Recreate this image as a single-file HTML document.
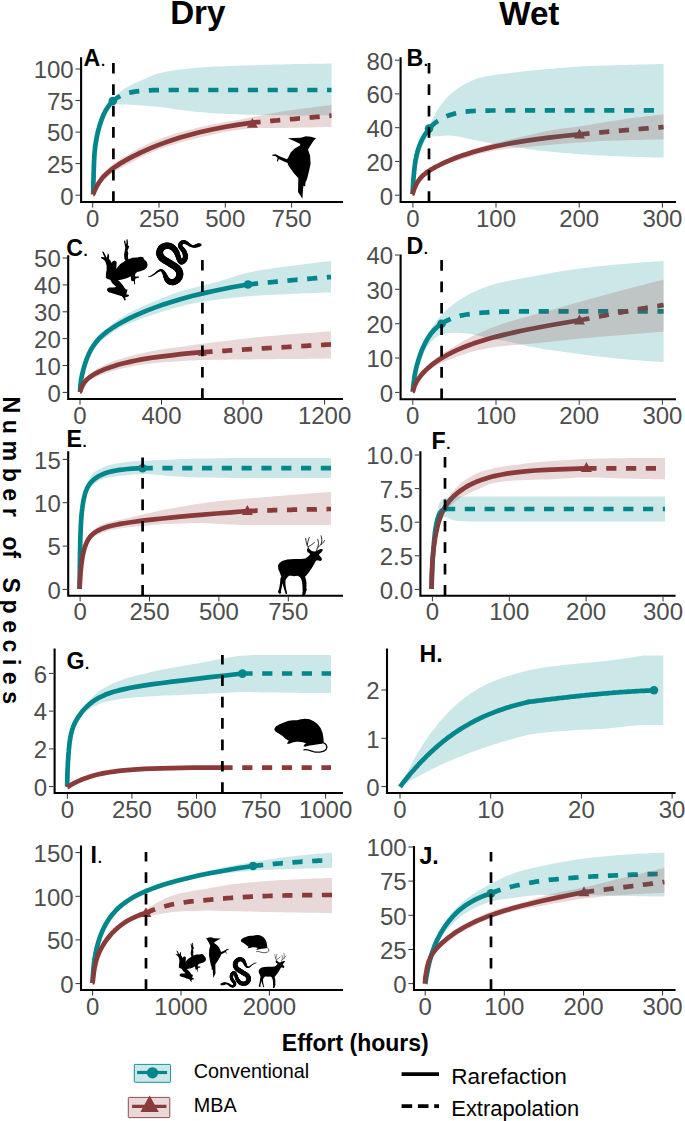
<!DOCTYPE html>
<html lang="en"><head><meta charset="utf-8"><title>Rarefaction curves</title>
<style>html,body{margin:0;padding:0;background:#fff}svg{display:block}text{font-family:'Liberation Sans', Arial, Helvetica, sans-serif}.tk{font-size:24px;fill:#4d4d4d}.pl{font-size:23.2px;font-weight:bold;fill:#000}.pd{font-size:15px;font-weight:bold}.ti{font-size:33.2px;font-weight:bold;fill:#000}.ax{font-size:23px;font-weight:bold;fill:#000}.lg1{font-size:19.8px;fill:#000}.lg2{font-size:22.2px;fill:#000}</style></head><body>
<svg width="685" height="1121" viewBox="0 0 685 1121">
<rect width="685" height="1121" fill="#fff"/>
<defs>
<path id="ic-woodpecker" d="M154 22 L282 17 L332 2 L380 6 L432 22 L410 40 L382 82 L352 132 L372 192 L377 272 L362 342 L342 422 L327 452 L324 494 L307 487 L302 532 L297 614 L277 582 L254 547 L257 412 L212 362 L162 292 L150 262 L132 256 L97 239 L67 224 L56 250 L46 247 L55 214 L32 196 L2 193 L2 184 L37 179 L67 195 L102 210 L147 226 L157 212 L182 162 L222 122 L272 92 L277 77 L222 52 Z"/>
<path id="ic-frog" d="M582 320 L572 280 L542 255 L527 225 L497 218 L452 228 L392 230 L362 245 L342 250 L337 210 L342 175 L332 140 L347 110 L352 85 L337 80 L337 35 L332 0 L317 5 L320 50 L312 60 L302 15 L287 18 L297 70 L304 110 L297 150 L290 190 L292 240 L307 265 L282 285 L242 310 L207 350 L192 370 L197 280 L167 265 L142 280 L132 295 L117 260 L102 250 L102 195 L87 175 L80 210 L72 230 L37 160 L17 150 L27 185 L47 225 L7 222 L0 235 L37 255 L57 280 L72 330 L72 380 L64 430 L62 480 L82 495 L117 505 L142 550 L192 595 L152 600 L102 600 L80 615 L77 640 L97 660 L152 675 L212 695 L262 710 L277 730 L297 765 L310 755 L302 725 L347 710 L352 695 L317 685 L327 650 L332 625 L312 625 L292 600 L272 570 L237 530 L212 510 L252 505 L312 490 L352 475 L372 460 L377 505 L382 520 L412 525 L414 565 L427 560 L424 520 L432 490 L472 480 L474 465 L437 465 L422 460 L430 430 L452 410 L492 400 L542 380 L572 355 Z"/>
<g id="ic-snake"><g transform="translate(-35 -45)"><g fill="none" stroke="#000" stroke-linecap="round"><path d="M40.0 465.0L57.1 461.3" stroke-width="8.8"/><path d="M57.1 461.3L72.1 455.9" stroke-width="10.4"/><path d="M72.1 455.9L85.6 448.9" stroke-width="12.0"/><path d="M85.6 448.9L98.1 440.8" stroke-width="13.5"/><path d="M98.1 440.8L110.2 431.8" stroke-width="14.8"/><path d="M110.2 431.8L122.4 422.2" stroke-width="15.8"/><path d="M122.4 422.2L135.2 412.2" stroke-width="16.8"/><path d="M135.2 412.2L149.1 402.2" stroke-width="18.0"/><path d="M149.1 402.2L164.1 393.5" stroke-width="19.7"/><path d="M164.1 393.5L179.0 389.4" stroke-width="22.0"/><path d="M179.0 389.4L192.8 393.4" stroke-width="25.0"/><path d="M192.8 393.4L204.6 404.5" stroke-width="29.6"/><path d="M204.6 404.5L214.2 418.6" stroke-width="34.6"/><path d="M214.2 418.6L221.7 432.9" stroke-width="39.2"/><path d="M221.7 432.9L228.0 447.2" stroke-width="43.5"/><path d="M228.0 447.2L233.8 461.6" stroke-width="47.7"/><path d="M233.8 461.6L240.2 476.2" stroke-width="51.6"/><path d="M240.2 476.2L247.8 490.3" stroke-width="54.9"/><path d="M247.8 490.3L257.2 503.1" stroke-width="58.3"/><path d="M257.2 503.1L268.9 513.9" stroke-width="61.3"/><path d="M268.9 513.9L283.0 522.0" stroke-width="63.6"/><path d="M283.0 522.0L298.6 526.8" stroke-width="65.3"/><path d="M298.6 526.8L314.6 528.0" stroke-width="67.1"/><path d="M314.6 528.0L330.1 525.3" stroke-width="68.7"/><path d="M330.1 525.3L344.8 519.0" stroke-width="70.2"/><path d="M344.8 519.0L358.4 509.9" stroke-width="71.6"/><path d="M358.4 509.9L370.5 498.6" stroke-width="73.1"/><path d="M370.5 498.6L380.9 485.7" stroke-width="74.3"/><path d="M380.9 485.7L389.2 471.6" stroke-width="75.3"/><path d="M389.2 471.6L395.0 456.6" stroke-width="76.2"/><path d="M395.0 456.6L397.8 441.0" stroke-width="77.2"/><path d="M397.8 441.0L397.3 425.3" stroke-width="77.8"/><path d="M397.3 425.3L393.6 409.7" stroke-width="78.0"/><path d="M393.6 409.7L387.3 394.8" stroke-width="78.0"/><path d="M387.3 394.8L378.7 381.0" stroke-width="78.0"/><path d="M378.7 381.0L368.3 368.7" stroke-width="78.0"/><path d="M368.3 368.7L356.6 358.0" stroke-width="78.0"/><path d="M356.6 358.0L344.0 348.5" stroke-width="78.0"/><path d="M344.0 348.5L330.7 339.7" stroke-width="78.0"/><path d="M330.7 339.7L317.2 331.4" stroke-width="78.0"/><path d="M317.2 331.4L303.7 323.0" stroke-width="78.0"/><path d="M303.7 323.0L290.4 314.6" stroke-width="78.0"/><path d="M290.4 314.6L277.0 306.2" stroke-width="78.0"/><path d="M277.0 306.2L263.5 298.0" stroke-width="78.0"/><path d="M263.5 298.0L249.9 289.9" stroke-width="78.0"/><path d="M249.9 289.9L236.0 282.0" stroke-width="78.0"/><path d="M236.0 282.0L222.2 273.9" stroke-width="78.0"/><path d="M222.2 273.9L209.1 265.1" stroke-width="78.0"/><path d="M209.1 265.1L196.9 255.0" stroke-width="78.0"/><path d="M196.9 255.0L186.1 243.3" stroke-width="78.0"/><path d="M186.1 243.3L177.2 229.9" stroke-width="78.0"/><path d="M177.2 229.9L170.8 215.1" stroke-width="78.0"/><path d="M170.8 215.1L167.4 199.4" stroke-width="78.0"/><path d="M167.4 199.4L167.4 183.3" stroke-width="77.6"/><path d="M167.4 183.3L170.8 167.5" stroke-width="76.7"/><path d="M170.8 167.5L177.4 152.6" stroke-width="75.7"/><path d="M177.4 152.6L186.7 139.4" stroke-width="74.6"/><path d="M186.7 139.4L198.6 128.5" stroke-width="73.8"/><path d="M198.6 128.5L212.3 120.1" stroke-width="73.3"/><path d="M212.3 120.1L227.4 114.3" stroke-width="72.8"/><path d="M227.4 114.3L243.3 111.2" stroke-width="72.3"/><path d="M243.3 111.2L259.4 110.8" stroke-width="71.6"/><path d="M259.4 110.8L275.3 113.0" stroke-width="70.6"/><path d="M275.3 113.0L290.7 117.6" stroke-width="69.7"/><path d="M290.7 117.6L305.2 124.4" stroke-width="68.7"/><path d="M305.2 124.4L318.5 133.1" stroke-width="67.7"/><path d="M318.5 133.1L330.5 143.6" stroke-width="66.6"/><path d="M330.5 143.6L341.1 155.5" stroke-width="65.6"/><path d="M341.1 155.5L350.4 168.6" stroke-width="64.5"/><path d="M350.4 168.6L358.3 182.5" stroke-width="63.0"/><path d="M358.3 182.5L365.1 196.9" stroke-width="61.2"/><path d="M365.1 196.9L370.8 211.5" stroke-width="59.4"/><path d="M370.8 211.5L375.6 226.0" stroke-width="58.0"/><path d="M375.6 226.0L380.2 240.6" stroke-width="57.2"/><path d="M380.2 240.6L385.5 255.9" stroke-width="56.6"/><path d="M385.5 255.9L392.7 272.3" stroke-width="56.3"/><path d="M392.7 272.3L402.1 287.1" stroke-width="56.8"/><path d="M402.1 287.1L413.8 295.6" stroke-width="57.5"/><path d="M413.8 295.6L427.8 293.6" stroke-width="57.9"/><path d="M427.8 293.6L441.6 283.5" stroke-width="58.0"/><path d="M441.6 283.5L452.2 269.6" stroke-width="57.9"/><path d="M452.2 269.6L458.4 254.6" stroke-width="57.4"/><path d="M458.4 254.6L460.9 239.1" stroke-width="56.7"/><path d="M460.9 239.1L460.6 223.2" stroke-width="56.0"/><path d="M460.6 223.2L457.9 207.5" stroke-width="55.4"/><path d="M457.9 207.5L453.1 192.3" stroke-width="54.7"/><path d="M453.1 192.3L446.4 178.1" stroke-width="54.0"/><path d="M446.4 178.1L438.0 164.8" stroke-width="53.3"/><path d="M438.0 164.8L428.0 152.3" stroke-width="52.5"/><path d="M428.0 152.3L417.1 140.1" stroke-width="51.5"/><path d="M417.1 140.1L407.3 127.3" stroke-width="50.1"/><path d="M407.3 127.3L401.8 112.8" stroke-width="48.6"/><path d="M401.8 112.8L402.6 96.7" stroke-width="46.9"/><path d="M402.6 96.7L409.9 82.1" stroke-width="45.0"/><path d="M409.9 82.1L422.7 72.4" stroke-width="43.6"/><path d="M422.7 72.4L438.5 68.2" stroke-width="42.7"/><path d="M438.5 68.2L454.5 69.5" stroke-width="41.2"/><path d="M454.5 69.5L469.4 75.1" stroke-width="38.9"/><path d="M469.4 75.1L483.1 83.3" stroke-width="36.3"/><path d="M483.1 83.3L495.9 92.6" stroke-width="33.6"/><path d="M495.9 92.6L508.7 101.9" stroke-width="30.9"/><path d="M508.7 101.9L522.4 109.9" stroke-width="28.6"/><path d="M522.4 109.9L537.2 115.6" stroke-width="26.9"/><path d="M537.2 115.6L552.9 118.1" stroke-width="26.8"/><path d="M552.9 118.1L568.6 116.7" stroke-width="29.7"/><path d="M568.6 116.7L583.9 112.4" stroke-width="35.8"/><path d="M583.9 112.4L599.0 107.5" stroke-width="40.9"/><path d="M599.0 107.5L614.2 103.6" stroke-width="40.6"/><path d="M614.2 103.6L630.0 102.0" stroke-width="32.4"/></g></g></g>
<g id="ic-deer"><g transform="translate(-65 -65)"><path d="M70 430 L85 400 L120 370 L180 352 L260 348 L340 348 L395 340 L430 315 L450 290 L440 275 L420 265 L412 240 L415 225 L430 215 L450 235 L470 250 L495 258 L520 255 L545 240 L575 228 L600 230 L595 250 L575 275 L555 290 L560 305 L585 335 L590 355 L575 372 L545 365 L525 362 L510 385 L480 440 L440 500 L405 545 L390 560 L400 590 L408 640 L405 700 L412 715 L400 745 L395 775 L370 790 L355 785 L362 740 L360 680 L355 620 L345 590 L330 565 L300 548 L260 555 L230 548 L200 550 L175 575 L160 600 L158 640 L165 700 L175 740 L180 770 L160 765 L150 730 L135 680 L125 640 L115 690 L105 735 L110 760 L85 765 L70 745 L85 700 L95 640 L100 580 L110 560 L95 520 L75 470 Z"/><path d="M432 218 L415 180 L405 150 L398 100 M415 178 L425 140 L432 110 L440 88 M428 200 L470 175 L502 147 M525 252 L535 215 L560 190 L600 155 L620 125 M540 212 L550 160 L540 110 M580 175 L590 120 L580 68" fill="none" stroke="#000" stroke-width="9.5" stroke-linecap="round" stroke-linejoin="round"/></g></g>
<g id="ic-mouse"><g transform="translate(-65 -85)"><path d="M65 195 L80 170 L120 145 L170 125 L215 110 L260 105 L300 105 L340 95 L385 88 L430 95 L475 115 L515 145 L545 185 L565 235 L575 290 L578 335 L560 350 L520 355 L470 362 L420 370 L390 380 L368 378 L375 360 L395 345 L360 335 L320 330 L290 328 L255 338 L220 350 L195 350 L205 335 L215 320 L185 300 L150 270 L115 245 L80 225 L68 210 Z"/><path d="M568 338 C600 345 618 375 606 402 C590 435 520 445 470 432 C430 420 400 408 372 414" fill="none" stroke="#000" stroke-width="13" stroke-linecap="round"/></g></g>
</defs>
<text x="197.8" y="24.3" text-anchor="middle" class="ti">Dry</text>
<text x="529.3" y="24.5" text-anchor="middle" class="ti">Wet</text>
<g>
<path d="M93.2 194.2 L93.2 193.0 L93.2 192.9 L93.2 192.8 L93.2 192.7 L93.2 192.5 L93.2 192.4 L93.2 192.3 L93.2 192.1 L93.2 192.0 L93.2 191.8 L93.2 191.6 L93.2 191.4 L93.3 191.2 L93.3 190.9 L93.3 190.7 L93.3 190.4 L93.3 190.1 L93.3 189.8 L93.3 189.5 L93.3 189.1 L93.3 188.7 L93.3 188.3 L93.3 187.9 L93.3 187.4 L93.3 186.9 L93.3 186.3 L93.4 185.8 L93.4 185.1 L93.4 184.5 L93.4 183.8 L93.4 183.1 L93.4 182.3 L93.4 181.5 L93.5 180.6 L93.5 179.7 L93.5 178.7 L93.5 177.7 L93.6 176.7 L93.6 175.6 L93.6 174.4 L93.6 173.2 L93.7 172.0 L93.7 170.7 L93.8 169.4 L93.8 168.0 L93.9 166.7 L93.9 165.3 L94.0 163.8 L94.0 162.4 L94.1 160.9 L94.2 159.5 L94.2 158.0 L94.3 156.6 L94.4 155.1 L94.5 153.7 L94.6 152.3 L94.7 150.9 L94.9 149.6 L95.0 148.2 L95.1 146.9 L95.3 145.6 L95.5 144.3 L95.7 143.1 L95.9 141.8 L96.1 140.6 L96.3 139.3 L96.6 138.0 L96.8 136.7 L97.1 135.3 L97.4 133.9 L97.8 132.5 L98.1 131.0 L98.5 129.5 L99.0 127.9 L99.4 126.3 L99.9 124.6 L100.5 122.9 L101.1 121.1 L101.7 119.4 L102.4 117.6 L103.1 115.8 L103.9 114.0 L104.8 112.2 L105.8 110.4 L106.8 108.7 L107.9 107.0 L109.0 105.4 L110.3 103.8 L111.7 102.4 L113.2 101.0" fill="none" stroke="#00868B" stroke-width="4.70" stroke-linecap="butt" stroke-linejoin="round"/>
<path d="M113.4 100.6 L115.6 98.9 L118.0 97.3 L120.4 95.9 L122.9 94.8 L125.5 93.8 L128.2 93.0 L130.9 92.4 L133.7 91.9 L136.4 91.4 L139.2 91.1 L142.0 90.8 L144.7 90.6 L147.5 90.5 L150.3 90.3 L153.1 90.2 L155.9 90.2 L158.7 90.1 L161.5 90.1 L164.2 90.1 L167.0 90.1 L169.8 90.0 L172.6 90.0 L175.4 90.0 L178.2 90.0 L181.0 90.0 L183.8 90.0 L186.5 90.0 L189.3 90.0 L192.1 90.0 L194.9 90.0 L197.7 90.0 L200.5 90.0 L203.3 90.0 L206.1 90.0 L208.8 90.0 L211.6 90.0 L214.4 90.0 L217.2 90.0 L220.0 90.0 L222.8 90.0 L225.6 90.0 L228.4 90.0 L231.1 90.0 L233.9 90.0 L236.7 90.0 L239.5 90.0 L242.3 90.0 L245.1 90.0 L247.9 90.0 L250.7 90.0 L253.4 90.0 L256.2 90.0 L259.0 90.0 L261.8 90.0 L264.6 90.0 L267.4 90.0 L270.2 90.0 L273.0 90.0 L275.7 90.0 L278.5 90.0 L281.3 90.0 L284.1 90.0 L286.9 90.0 L289.7 90.0 L292.5 90.0 L295.3 90.0 L298.0 90.0 L300.8 90.0 L303.6 90.0 L306.4 90.0 L309.2 90.0 L312.0 90.0 L314.8 90.0 L317.6 90.0 L320.3 90.0 L323.1 90.0 L325.9 90.0 L328.7 90.0 L331.5 90.0" fill="none" stroke="#00868B" stroke-width="4.70" stroke-linecap="butt" stroke-linejoin="round" stroke-dasharray="10.2 9.6" stroke-dashoffset="2.0"/>
<path d="M93.2 194.2 L93.2 194.1 L93.2 194.1 L93.2 194.1 L93.2 194.1 L93.2 194.1 L93.2 194.1 L93.2 194.1 L93.2 194.1 L93.2 194.1 L93.2 194.1 L93.3 194.1 L93.3 194.0 L93.3 194.0 L93.3 194.0 L93.3 194.0 L93.3 194.0 L93.3 193.9 L93.3 193.9 L93.3 193.9 L93.3 193.8 L93.4 193.8 L93.4 193.8 L93.4 193.7 L93.4 193.7 L93.4 193.6 L93.4 193.5 L93.5 193.5 L93.5 193.4 L93.5 193.3 L93.6 193.2 L93.6 193.1 L93.7 193.0 L93.7 192.9 L93.8 192.8 L93.8 192.6 L93.9 192.4 L94.0 192.3 L94.0 192.1 L94.1 191.9 L94.2 191.6 L94.3 191.4 L94.5 191.1 L94.6 190.8 L94.7 190.4 L94.9 190.1 L95.1 189.7 L95.3 189.3 L95.5 188.8 L95.7 188.3 L96.0 187.7 L96.3 187.2 L96.6 186.5 L97.0 185.9 L97.4 185.1 L97.9 184.4 L98.3 183.6 L98.9 182.7 L99.5 181.8 L100.2 180.9 L100.9 179.9 L101.7 178.8 L102.6 177.7 L103.6 176.6 L104.7 175.4 L106.0 174.2 L107.3 173.0 L108.8 171.7 L110.5 170.3 L112.3 168.9 L114.4 167.4 L116.6 165.9 L119.1 164.3 L121.8 162.6 L124.9 160.8 L128.2 158.9 L132.0 156.9 L136.1 154.8 L140.6 152.6 L145.7 150.3 L151.2 147.9 L157.4 145.4 L164.2 142.9 L171.7 140.3 L180.1 137.6 L189.3 135.0 L199.5 132.3 L210.8 129.8 L223.3 127.3 L237.1 124.9 L252.4 122.6" fill="none" stroke="#8B3A3A" stroke-width="4.70" stroke-linecap="butt" stroke-linejoin="round"/>
<path d="M252.4 122.6 L253.4 122.5 L254.4 122.4 L255.4 122.3 L256.4 122.2 L257.4 122.1 L258.4 122.1 L259.4 122.0 L260.4 121.9 L261.4 121.8 L262.4 121.7 L263.4 121.6 L264.4 121.5 L265.4 121.4 L266.4 121.3 L267.4 121.2 L268.4 121.2 L269.4 121.1 L270.4 121.0 L271.4 120.9 L272.4 120.8 L273.4 120.7 L274.4 120.6 L275.4 120.5 L276.4 120.5 L277.4 120.4 L278.4 120.3 L279.4 120.2 L280.4 120.1 L281.4 120.0 L282.4 119.9 L283.4 119.8 L284.4 119.8 L285.4 119.7 L286.4 119.6 L287.4 119.5 L288.4 119.4 L289.4 119.3 L290.4 119.2 L291.4 119.1 L292.5 119.1 L293.5 119.0 L294.5 118.9 L295.5 118.8 L296.5 118.7 L297.5 118.6 L298.5 118.5 L299.5 118.4 L300.5 118.4 L301.5 118.3 L302.5 118.2 L303.5 118.1 L304.5 118.0 L305.5 117.9 L306.5 117.8 L307.5 117.7 L308.5 117.7 L309.5 117.6 L310.5 117.5 L311.5 117.4 L312.5 117.3 L313.5 117.2 L314.5 117.1 L315.5 117.0 L316.5 116.9 L317.5 116.9 L318.5 116.8 L319.5 116.7 L320.5 116.6 L321.5 116.5 L322.5 116.4 L323.5 116.3 L324.5 116.2 L325.5 116.1 L326.5 116.0 L327.5 116.0 L328.5 115.9 L329.5 115.8 L330.5 115.7 L331.5 115.6" fill="none" stroke="#8B3A3A" stroke-width="4.70" stroke-linecap="butt" stroke-linejoin="round" stroke-dasharray="10.2 9.6" stroke-dashoffset="2.0"/>
<circle cx="112.8" cy="101.0" r="4.3" fill="#00868B"/>
<polygon points="252.4,117.9 257.9,127.8 246.9,127.8" fill="#8B3A3A"/>
<path d="M92.8 194.0 L92.8 189.9 L92.9 185.7 L93.0 181.6 L93.1 177.4 L93.2 173.3 L93.4 169.2 L93.6 165.1 L93.8 161.0 L94.0 156.9 L94.2 152.8 L94.5 148.7 L94.9 144.5 L95.4 140.4 L96.0 136.3 L96.7 132.2 L97.5 128.2 L98.4 124.2 L99.6 120.2 L101.0 116.2 L102.6 112.4 L104.5 108.9 L106.9 105.6 L109.8 102.6 L112.8 99.7 L115.6 96.6 L118.4 93.5 L121.4 90.9 L124.8 88.5 L128.4 86.4 L132.0 84.5 L135.8 82.8 L139.6 81.2 L143.4 79.5 L147.2 77.8 L151.0 76.1 L154.9 74.6 L158.7 73.3 L162.7 72.4 L166.7 71.6 L170.8 70.9 L174.9 70.3 L179.0 69.7 L183.1 69.2 L187.2 68.8 L191.3 68.3 L195.4 68.0 L199.6 67.6 L203.7 67.3 L207.8 67.1 L211.9 66.8 L216.0 66.6 L220.1 66.4 L224.3 66.2 L228.4 66.0 L232.5 65.9 L236.6 65.7 L240.8 65.6 L244.9 65.4 L249.0 65.3 L253.1 65.2 L257.3 65.1 L261.4 65.0 L265.5 64.8 L269.6 64.7 L273.7 64.6 L277.9 64.5 L282.0 64.4 L286.1 64.3 L290.2 64.2 L294.4 64.1 L298.5 64.0 L302.6 64.0 L306.7 63.9 L310.9 63.8 L315.0 63.8 L319.1 63.7 L323.2 63.7 L327.4 63.6 L331.5 63.6 L331.5 115.6 L327.5 115.6 L323.6 115.6 L319.6 115.6 L315.6 115.6 L311.7 115.5 L307.7 115.5 L303.8 115.5 L299.8 115.5 L295.8 115.4 L291.9 115.4 L287.9 115.4 L283.9 115.3 L280.0 115.3 L276.0 115.3 L272.0 115.2 L268.1 115.1 L264.1 115.1 L260.1 115.0 L256.2 114.9 L252.2 114.8 L248.3 114.7 L244.3 114.5 L240.3 114.4 L236.4 114.3 L232.4 114.1 L228.4 114.0 L224.5 113.8 L220.5 113.6 L216.6 113.4 L212.6 113.2 L208.7 112.9 L204.7 112.6 L200.8 112.3 L196.8 111.9 L192.9 111.5 L188.9 111.1 L185.0 110.6 L181.0 110.1 L177.1 109.6 L173.2 109.0 L169.3 108.3 L165.4 107.7 L161.4 107.2 L157.5 106.7 L153.6 106.4 L149.6 106.0 L145.7 105.7 L141.7 105.4 L137.8 105.2 L133.8 105.0 L129.8 104.8 L125.9 104.6 L121.9 104.4 L117.8 104.2 L113.9 104.0 L111.1 105.3 L108.8 109.0 L106.9 113.2 L105.3 116.8 L103.8 120.5 L102.6 124.3 L101.4 128.1 L100.5 132.0 L99.7 135.8 L98.9 139.7 L98.2 143.7 L97.6 147.6 L97.0 151.5 L96.6 155.5 L96.2 159.4 L95.8 163.3 L95.4 167.3 L95.1 171.2 L94.7 175.2 L94.4 179.1 L94.2 183.1 L94.0 187.0 L93.9 191.0 L93.8 195.0Z" fill="#00868B" fill-opacity="0.20" stroke="none"/>
<path d="M92.2 193.0 L93.4 189.8 L94.7 186.7 L96.3 183.7 L97.9 180.8 L99.7 178.0 L101.6 175.3 L103.8 172.7 L106.1 170.3 L108.5 168.0 L111.0 165.7 L113.6 163.6 L116.4 161.7 L119.2 159.9 L122.0 158.1 L124.9 156.4 L127.8 154.7 L130.7 153.0 L133.6 151.3 L136.5 149.7 L139.4 148.1 L142.4 146.6 L145.4 145.1 L148.5 143.7 L151.5 142.3 L154.6 140.9 L157.7 139.7 L160.8 138.5 L164.0 137.4 L167.2 136.3 L170.4 135.3 L173.6 134.3 L176.8 133.3 L180.0 132.4 L183.2 131.5 L186.4 130.6 L189.7 129.7 L192.9 128.9 L196.2 128.1 L199.4 127.3 L202.7 126.6 L206.0 125.9 L209.3 125.1 L212.5 124.5 L215.8 123.8 L219.1 123.2 L222.4 122.6 L225.7 122.0 L229.0 121.5 L232.3 120.9 L235.6 120.4 L238.9 119.8 L242.2 119.2 L245.5 118.5 L248.8 117.9 L252.1 117.2 L255.3 116.5 L258.6 115.9 L261.9 115.2 L265.2 114.6 L268.5 113.9 L271.8 113.3 L275.1 112.7 L278.4 112.2 L281.7 111.6 L285.0 111.1 L288.3 110.6 L291.6 110.2 L295.0 109.7 L298.3 109.2 L301.6 108.8 L304.9 108.3 L308.2 107.9 L311.6 107.5 L314.9 107.0 L318.2 106.6 L321.5 106.2 L324.8 105.8 L328.2 105.4 L331.5 105.0 L331.5 127.0 L328.2 127.1 L325.0 127.1 L321.7 127.2 L318.5 127.3 L315.2 127.3 L312.0 127.4 L308.7 127.4 L305.5 127.5 L302.2 127.6 L299.0 127.6 L295.7 127.7 L292.5 127.8 L289.2 127.8 L286.0 127.9 L282.7 128.0 L279.5 128.0 L276.2 128.0 L272.9 128.0 L269.7 128.0 L266.4 128.0 L263.2 128.0 L259.9 128.0 L256.7 128.1 L253.4 128.2 L250.2 128.5 L246.9 128.8 L243.7 129.2 L240.5 129.5 L237.2 129.9 L234.0 130.4 L230.8 130.9 L227.6 131.5 L224.4 132.1 L221.2 132.8 L218.0 133.4 L214.8 134.0 L211.7 134.7 L208.5 135.4 L205.3 136.2 L202.1 136.9 L199.0 137.6 L195.8 138.4 L192.6 139.2 L189.5 140.0 L186.3 140.8 L183.2 141.7 L180.1 142.6 L177.0 143.5 L173.8 144.4 L170.7 145.4 L167.6 146.4 L164.5 147.4 L161.5 148.5 L158.4 149.6 L155.4 150.8 L152.4 152.0 L149.4 153.3 L146.4 154.7 L143.5 156.1 L140.6 157.5 L137.7 159.0 L134.9 160.6 L132.0 162.3 L129.2 163.8 L126.3 165.3 L123.4 166.8 L120.5 168.3 L117.6 169.8 L114.8 171.4 L112.0 173.1 L109.3 175.0 L106.8 177.0 L104.3 179.1 L101.9 181.3 L99.8 183.8 L97.9 186.3 L96.1 189.1 L94.6 192.0 L93.2 195.0Z" fill="#8B3A3A" fill-opacity="0.20" stroke="none"/>
<line x1="113.4" y1="202.0" x2="113.4" y2="63.0" stroke="#000" stroke-width="2.7" stroke-dasharray="10.7 10.7" stroke-dashoffset="0.0"/>
<path d="M81.1 57.2 V202.0 H343.0" fill="none" stroke="#000" stroke-width="2.1" stroke-linejoin="miter"/>
<line x1="75.5" y1="195.2" x2="80.1" y2="195.2" stroke="#333" stroke-width="1"/>
<text x="73.7" y="204.5" text-anchor="end" class="tk">0</text>
<line x1="75.5" y1="163.6" x2="80.1" y2="163.6" stroke="#333" stroke-width="1"/>
<text x="73.7" y="172.9" text-anchor="end" class="tk">25</text>
<line x1="75.5" y1="132.1" x2="80.1" y2="132.1" stroke="#333" stroke-width="1"/>
<text x="73.7" y="141.4" text-anchor="end" class="tk">50</text>
<line x1="75.5" y1="100.5" x2="80.1" y2="100.5" stroke="#333" stroke-width="1"/>
<text x="73.7" y="109.8" text-anchor="end" class="tk">75</text>
<line x1="75.5" y1="69.0" x2="80.1" y2="69.0" stroke="#333" stroke-width="1"/>
<text x="73.7" y="78.3" text-anchor="end" class="tk">100</text>
<line x1="92.7" y1="203.0" x2="92.7" y2="207.6" stroke="#333" stroke-width="1"/>
<text x="92.7" y="226.6" text-anchor="middle" class="tk">0</text>
<line x1="159.0" y1="203.0" x2="159.0" y2="207.6" stroke="#333" stroke-width="1"/>
<text x="159.0" y="226.6" text-anchor="middle" class="tk">250</text>
<line x1="225.3" y1="203.0" x2="225.3" y2="207.6" stroke="#333" stroke-width="1"/>
<text x="225.3" y="226.6" text-anchor="middle" class="tk">500</text>
<line x1="291.6" y1="203.0" x2="291.6" y2="207.6" stroke="#333" stroke-width="1"/>
<text x="291.6" y="226.6" text-anchor="middle" class="tk">750</text>
<text x="83.6" y="66.4" class="pl">A<tspan class="pd" dx="0.6">.</tspan></text>
<use href="#ic-woodpecker" transform="translate(272.06 136.04) scale(0.1022 0.1022)" fill="#000"/>
</g>
<g>
<path d="M412.6 194.0 L412.6 193.6 L412.6 193.5 L412.6 193.5 L412.6 193.5 L412.6 193.4 L412.6 193.4 L412.6 193.3 L412.6 193.3 L412.6 193.2 L412.6 193.2 L412.6 193.1 L412.6 193.0 L412.6 192.9 L412.7 192.9 L412.7 192.8 L412.7 192.7 L412.7 192.6 L412.7 192.5 L412.7 192.3 L412.7 192.2 L412.7 192.1 L412.7 191.9 L412.7 191.8 L412.7 191.6 L412.7 191.4 L412.7 191.2 L412.7 191.0 L412.8 190.8 L412.8 190.6 L412.8 190.3 L412.8 190.0 L412.8 189.8 L412.8 189.4 L412.8 189.1 L412.9 188.8 L412.9 188.4 L412.9 188.0 L412.9 187.5 L413.0 187.1 L413.0 186.6 L413.0 186.1 L413.0 185.5 L413.1 185.0 L413.1 184.3 L413.2 183.7 L413.2 183.0 L413.2 182.3 L413.3 181.5 L413.3 180.8 L413.4 179.9 L413.5 179.1 L413.5 178.1 L413.6 177.2 L413.7 176.2 L413.8 175.2 L413.9 174.2 L414.0 173.1 L414.1 172.0 L414.2 170.8 L414.3 169.6 L414.4 168.4 L414.6 167.2 L414.7 166.0 L414.9 164.7 L415.1 163.4 L415.3 162.1 L415.5 160.8 L415.7 159.5 L416.0 158.2 L416.2 156.9 L416.5 155.5 L416.8 154.2 L417.2 152.8 L417.5 151.5 L417.9 150.2 L418.3 148.8 L418.8 147.5 L419.2 146.1 L419.8 144.7 L420.3 143.4 L420.9 142.0 L421.6 140.6 L422.3 139.2 L423.0 137.8 L423.8 136.4 L424.7 135.0 L425.7 133.5 L426.7 132.1 L427.8 130.5 L429.0 129.0" fill="none" stroke="#00868B" stroke-width="4.70" stroke-linecap="butt" stroke-linejoin="round"/>
<path d="M429.0 129.0 L430.9 126.8 L433.0 124.7 L435.2 122.8 L437.6 121.1 L440.1 119.6 L442.6 118.2 L445.2 116.9 L447.9 115.7 L450.7 114.7 L453.5 113.9 L456.3 113.2 L459.1 112.5 L462.0 112.0 L464.9 111.6 L467.8 111.4 L470.7 111.2 L473.6 111.0 L476.6 110.9 L479.5 110.8 L482.4 110.7 L485.3 110.6 L488.2 110.6 L491.1 110.5 L494.1 110.5 L497.0 110.5 L499.9 110.5 L502.8 110.5 L505.7 110.5 L508.6 110.4 L511.6 110.4 L514.5 110.4 L517.4 110.4 L520.3 110.4 L523.2 110.4 L526.1 110.4 L529.1 110.4 L532.0 110.4 L534.9 110.4 L537.8 110.4 L540.7 110.4 L543.6 110.4 L546.6 110.4 L549.5 110.4 L552.4 110.4 L555.3 110.4 L558.2 110.4 L561.2 110.4 L564.1 110.4 L567.0 110.4 L569.9 110.4 L572.8 110.4 L575.7 110.4 L578.7 110.4 L581.6 110.4 L584.5 110.4 L587.4 110.4 L590.3 110.4 L593.2 110.4 L596.2 110.4 L599.1 110.4 L602.0 110.4 L604.9 110.4 L607.8 110.4 L610.7 110.4 L613.7 110.4 L616.6 110.4 L619.5 110.4 L622.4 110.4 L625.3 110.4 L628.2 110.4 L631.2 110.4 L634.1 110.4 L637.0 110.4 L639.9 110.4 L642.8 110.4 L645.7 110.4 L648.7 110.4 L651.6 110.4 L654.5 110.4" fill="none" stroke="#00868B" stroke-width="4.70" stroke-linecap="butt" stroke-linejoin="round" stroke-dasharray="10.2 9.6" stroke-dashoffset="-2.0"/>
<path d="M412.6 194.0 L412.6 193.9 L412.6 193.9 L412.6 193.9 L412.6 193.9 L412.6 193.9 L412.6 193.9 L412.6 193.9 L412.6 193.8 L412.6 193.8 L412.6 193.8 L412.7 193.8 L412.7 193.8 L412.7 193.8 L412.7 193.7 L412.7 193.7 L412.7 193.7 L412.7 193.6 L412.7 193.6 L412.7 193.5 L412.7 193.5 L412.8 193.4 L412.8 193.4 L412.8 193.3 L412.8 193.3 L412.8 193.2 L412.9 193.1 L412.9 193.0 L412.9 192.9 L412.9 192.8 L413.0 192.7 L413.0 192.5 L413.1 192.4 L413.1 192.2 L413.2 192.1 L413.2 191.9 L413.3 191.6 L413.4 191.4 L413.5 191.2 L413.5 190.9 L413.6 190.6 L413.8 190.3 L413.9 189.9 L414.0 189.5 L414.2 189.1 L414.3 188.7 L414.5 188.2 L414.7 187.7 L415.0 187.1 L415.2 186.5 L415.5 185.9 L415.8 185.3 L416.1 184.6 L416.5 183.9 L416.9 183.1 L417.4 182.3 L417.9 181.5 L418.5 180.6 L419.1 179.8 L419.8 178.9 L420.6 178.0 L421.4 177.0 L422.3 176.1 L423.4 175.1 L424.5 174.2 L425.8 173.1 L427.2 172.1 L428.8 171.1 L430.5 169.9 L432.4 168.8 L434.5 167.6 L436.9 166.3 L439.5 165.0 L442.3 163.6 L445.5 162.1 L449.0 160.6 L452.9 159.0 L457.2 157.3 L462.0 155.6 L467.2 153.9 L473.1 152.1 L479.5 150.2 L486.7 148.4 L494.6 146.5 L503.4 144.7 L513.0 142.9 L523.8 141.1 L535.6 139.4 L548.8 137.7 L563.3 136.0 L579.4 134.4" fill="none" stroke="#8B3A3A" stroke-width="4.70" stroke-linecap="butt" stroke-linejoin="round"/>
<path d="M579.4 134.4 L580.5 134.3 L581.5 134.2 L582.6 134.1 L583.7 134.0 L584.7 133.9 L585.8 133.8 L586.9 133.7 L587.9 133.6 L589.0 133.5 L590.1 133.4 L591.1 133.3 L592.2 133.2 L593.2 133.1 L594.3 133.0 L595.4 132.9 L596.4 132.8 L597.5 132.7 L598.6 132.6 L599.6 132.5 L600.7 132.4 L601.8 132.3 L602.8 132.2 L603.9 132.1 L605.0 132.0 L606.0 131.9 L607.1 131.8 L608.2 131.7 L609.2 131.6 L610.3 131.6 L611.4 131.5 L612.4 131.4 L613.5 131.3 L614.6 131.2 L615.6 131.1 L616.7 131.0 L617.8 130.9 L618.8 130.8 L619.9 130.7 L621.0 130.6 L622.0 130.5 L623.1 130.4 L624.2 130.3 L625.2 130.2 L626.3 130.1 L627.4 130.1 L628.4 130.0 L629.5 129.9 L630.5 129.8 L631.6 129.7 L632.7 129.6 L633.7 129.5 L634.8 129.4 L635.9 129.3 L636.9 129.2 L638.0 129.1 L639.1 129.0 L640.1 129.0 L641.2 128.9 L642.3 128.8 L643.3 128.7 L644.4 128.6 L645.5 128.5 L646.5 128.4 L647.6 128.3 L648.7 128.2 L649.7 128.1 L650.8 128.1 L651.9 128.0 L652.9 127.9 L654.0 127.8 L655.1 127.7 L656.1 127.6 L657.2 127.5 L658.3 127.4 L659.3 127.3 L660.4 127.3 L661.5 127.2 L662.5 127.1 L663.6 127.0" fill="none" stroke="#8B3A3A" stroke-width="4.70" stroke-linecap="butt" stroke-linejoin="round" stroke-dasharray="10.2 9.6" stroke-dashoffset="0.0"/>
<circle cx="429.0" cy="128.6" r="4.3" fill="#00868B"/>
<polygon points="579.4,128.7 584.9,138.6 573.9,138.6" fill="#8B3A3A"/>
<path d="M412.4 193.5 L412.5 189.3 L412.7 185.2 L413.0 181.1 L413.3 176.9 L413.7 172.8 L414.1 168.7 L414.7 164.6 L415.3 160.5 L416.1 156.4 L416.9 152.3 L418.0 148.3 L419.3 144.4 L420.8 140.5 L422.5 136.7 L424.4 133.0 L426.6 129.5 L428.9 126.1 L430.9 122.4 L432.6 118.7 L434.5 114.9 L436.5 111.4 L438.8 107.8 L441.1 104.4 L443.7 101.2 L446.4 98.1 L449.4 95.1 L452.5 92.4 L455.8 89.9 L459.2 87.5 L462.7 85.3 L466.4 83.3 L470.1 81.4 L473.9 79.7 L477.8 78.3 L481.8 77.3 L485.8 76.5 L490.0 75.8 L494.1 75.1 L498.2 74.5 L502.3 74.0 L506.4 73.4 L510.5 72.9 L514.6 72.4 L518.7 72.0 L522.9 71.5 L527.0 71.0 L531.1 70.6 L535.2 70.2 L539.4 69.8 L543.5 69.4 L547.6 69.0 L551.8 68.7 L555.9 68.3 L560.0 68.0 L564.2 67.7 L568.3 67.4 L572.4 67.1 L576.6 66.8 L580.7 66.6 L584.8 66.3 L589.0 66.1 L593.1 66.0 L597.3 65.8 L601.4 65.6 L605.6 65.5 L609.7 65.4 L613.9 65.2 L618.0 65.1 L622.1 65.0 L626.3 64.9 L630.4 64.8 L634.6 64.7 L638.7 64.6 L642.9 64.5 L647.0 64.4 L651.2 64.3 L655.3 64.2 L659.5 64.1 L663.6 64.0 L663.6 157.6 L659.8 157.5 L656.0 157.5 L652.2 157.4 L648.4 157.3 L644.6 157.2 L640.8 157.1 L637.0 156.9 L633.2 156.8 L629.3 156.7 L625.5 156.5 L621.7 156.4 L617.9 156.2 L614.1 156.1 L610.3 155.9 L606.5 155.8 L602.7 155.6 L598.9 155.4 L595.1 155.2 L591.3 154.9 L587.5 154.7 L583.7 154.4 L579.9 154.2 L576.1 153.9 L572.3 153.6 L568.5 153.3 L564.7 153.0 L561.0 152.7 L557.2 152.3 L553.4 152.0 L549.6 151.6 L545.8 151.2 L542.0 150.8 L538.2 150.4 L534.4 149.9 L530.7 149.4 L526.9 148.9 L523.1 148.3 L519.4 147.7 L515.6 147.1 L511.9 146.5 L508.1 146.0 L504.3 145.4 L500.6 144.9 L496.8 144.3 L493.0 143.7 L489.3 143.0 L485.6 142.3 L481.8 141.6 L478.1 140.8 L474.4 140.0 L470.6 139.2 L466.9 138.4 L463.2 137.6 L459.5 136.8 L455.7 136.2 L451.9 135.8 L448.1 135.6 L444.3 135.7 L440.5 136.0 L436.6 136.2 L432.9 136.4 L429.8 133.8 L427.3 135.4 L425.5 139.0 L424.0 142.5 L422.6 146.0 L421.2 149.6 L419.9 153.2 L418.9 156.8 L418.1 160.6 L417.3 164.3 L416.6 168.1 L416.0 171.8 L415.5 175.6 L415.0 179.3 L414.5 183.1 L414.1 186.9 L413.7 190.7 L413.4 194.5Z" fill="#00868B" fill-opacity="0.20" stroke="none"/>
<path d="M412.4 193.0 L413.3 189.5 L414.5 186.1 L416.0 183.0 L417.7 180.1 L419.5 177.4 L421.7 174.8 L424.3 172.5 L427.2 170.3 L429.9 168.3 L432.8 166.5 L435.8 164.7 L438.8 163.1 L441.9 161.5 L445.0 160.0 L448.2 158.6 L451.3 157.2 L454.5 155.9 L457.7 154.7 L461.0 153.4 L464.2 152.3 L467.5 151.1 L470.7 150.0 L474.0 148.9 L477.3 147.9 L480.6 146.9 L483.9 145.9 L487.2 145.0 L490.5 144.1 L493.9 143.3 L497.2 142.5 L500.6 141.7 L503.9 140.9 L507.3 140.1 L510.6 139.3 L514.0 138.5 L517.4 137.7 L520.7 136.9 L524.1 136.2 L527.4 135.4 L530.8 134.7 L534.2 133.9 L537.5 133.2 L540.9 132.4 L544.3 131.7 L547.6 131.0 L551.0 130.3 L554.4 129.7 L557.8 129.2 L561.2 128.7 L564.6 128.3 L568.1 127.8 L571.5 127.4 L574.9 127.0 L578.3 126.6 L581.7 126.1 L585.1 125.5 L588.5 124.9 L591.9 124.4 L595.3 123.8 L598.7 123.2 L602.1 122.6 L605.5 122.0 L608.9 121.5 L612.3 121.0 L615.7 120.5 L619.1 120.0 L622.6 119.5 L626.0 119.0 L629.4 118.6 L632.8 118.1 L636.2 117.6 L639.6 117.2 L643.1 116.8 L646.5 116.3 L649.9 115.9 L653.3 115.5 L656.7 115.1 L660.2 114.8 L663.6 114.4 L663.6 139.6 L660.2 139.6 L656.9 139.6 L653.5 139.7 L650.1 139.7 L646.7 139.7 L643.4 139.8 L640.0 139.9 L636.6 139.9 L633.3 140.0 L629.9 140.1 L626.5 140.2 L623.1 140.3 L619.8 140.4 L616.4 140.5 L613.0 140.6 L609.7 140.7 L606.3 140.8 L602.9 141.0 L599.6 141.1 L596.2 141.3 L592.8 141.5 L589.5 141.7 L586.1 142.0 L582.7 142.2 L579.4 142.4 L576.0 142.6 L572.7 142.9 L569.3 143.2 L565.9 143.5 L562.6 143.7 L559.2 144.0 L555.9 144.3 L552.5 144.6 L549.1 144.9 L545.8 145.2 L542.4 145.5 L539.1 145.8 L535.7 146.1 L532.4 146.4 L529.0 146.7 L525.6 147.0 L522.3 147.2 L518.9 147.5 L515.6 147.8 L512.2 148.2 L508.9 148.5 L505.5 148.9 L502.2 149.4 L498.8 149.9 L495.5 150.5 L492.2 151.1 L488.9 151.8 L485.6 152.5 L482.3 153.2 L479.1 154.1 L475.8 155.0 L472.6 156.0 L469.4 157.0 L466.2 158.0 L462.9 159.0 L459.7 160.0 L456.5 161.1 L453.3 162.1 L450.1 163.2 L446.9 164.4 L443.8 165.7 L440.7 167.0 L437.6 168.5 L434.6 170.0 L431.7 171.7 L428.9 173.5 L426.2 175.5 L423.6 177.8 L421.2 180.2 L419.1 182.8 L417.4 185.6 L415.8 188.5 L414.5 191.7 L413.4 195.0Z" fill="#8B3A3A" fill-opacity="0.20" stroke="none"/>
<line x1="429.0" y1="202.0" x2="429.0" y2="63.0" stroke="#000" stroke-width="2.7" stroke-dasharray="10.7 10.7" stroke-dashoffset="0.0"/>
<path d="M400.6 57.2 V202.0 H676.0" fill="none" stroke="#000" stroke-width="2.1" stroke-linejoin="miter"/>
<line x1="395.0" y1="195.2" x2="399.6" y2="195.2" stroke="#333" stroke-width="1"/>
<text x="393.2" y="204.5" text-anchor="end" class="tk">0</text>
<line x1="395.0" y1="161.4" x2="399.6" y2="161.4" stroke="#333" stroke-width="1"/>
<text x="393.2" y="170.8" text-anchor="end" class="tk">20</text>
<line x1="395.0" y1="127.7" x2="399.6" y2="127.7" stroke="#333" stroke-width="1"/>
<text x="393.2" y="137.0" text-anchor="end" class="tk">40</text>
<line x1="395.0" y1="93.9" x2="399.6" y2="93.9" stroke="#333" stroke-width="1"/>
<text x="393.2" y="103.2" text-anchor="end" class="tk">60</text>
<line x1="395.0" y1="60.2" x2="399.6" y2="60.2" stroke="#333" stroke-width="1"/>
<text x="393.2" y="69.5" text-anchor="end" class="tk">80</text>
<line x1="412.9" y1="203.0" x2="412.9" y2="207.6" stroke="#333" stroke-width="1"/>
<text x="412.9" y="226.6" text-anchor="middle" class="tk">0</text>
<line x1="496.0" y1="203.0" x2="496.0" y2="207.6" stroke="#333" stroke-width="1"/>
<text x="496.0" y="226.6" text-anchor="middle" class="tk">100</text>
<line x1="579.2" y1="203.0" x2="579.2" y2="207.6" stroke="#333" stroke-width="1"/>
<text x="579.2" y="226.6" text-anchor="middle" class="tk">200</text>
<line x1="662.4" y1="203.0" x2="662.4" y2="207.6" stroke="#333" stroke-width="1"/>
<text x="662.4" y="226.6" text-anchor="middle" class="tk">300</text>
<text x="406.4" y="66.2" class="pl">B<tspan class="pd" dx="0.6">.</tspan></text>
</g>
<g>
<path d="M80.1 391.8 L80.1 391.3 L80.1 391.3 L80.1 391.2 L80.1 391.2 L80.1 391.1 L80.1 391.0 L80.1 390.9 L80.1 390.9 L80.1 390.8 L80.1 390.7 L80.2 390.5 L80.2 390.4 L80.2 390.3 L80.2 390.1 L80.2 390.0 L80.2 389.8 L80.2 389.6 L80.2 389.4 L80.2 389.2 L80.2 388.9 L80.3 388.6 L80.3 388.4 L80.3 388.0 L80.3 387.7 L80.3 387.4 L80.4 387.0 L80.4 386.6 L80.4 386.2 L80.4 385.7 L80.5 385.3 L80.5 384.8 L80.6 384.3 L80.6 383.8 L80.7 383.2 L80.7 382.7 L80.8 382.1 L80.9 381.5 L81.0 380.9 L81.0 380.3 L81.1 379.7 L81.3 379.0 L81.4 378.3 L81.5 377.6 L81.7 376.8 L81.8 376.0 L82.0 375.1 L82.2 374.2 L82.5 373.2 L82.7 372.2 L83.0 371.1 L83.3 369.9 L83.6 368.6 L84.0 367.3 L84.4 365.8 L84.9 364.3 L85.4 362.7 L86.0 361.1 L86.6 359.3 L87.3 357.5 L88.1 355.7 L88.9 353.8 L89.9 351.8 L90.9 349.8 L92.1 347.8 L93.4 345.8 L94.8 343.8 L96.4 341.8 L98.1 339.7 L100.0 337.7 L102.1 335.7 L104.5 333.7 L107.1 331.6 L110.0 329.6 L113.2 327.4 L116.7 325.2 L120.6 323.0 L125.0 320.7 L129.8 318.2 L135.1 315.7 L140.9 313.1 L147.4 310.4 L154.6 307.6 L162.6 304.8 L171.4 301.9 L181.2 298.9 L192.0 296.0 L203.9 293.1 L217.1 290.2 L231.8 287.3 L248.0 284.5" fill="none" stroke="#00868B" stroke-width="4.70" stroke-linecap="butt" stroke-linejoin="round"/>
<path d="M248.0 284.5 L249.0 284.4 L250.1 284.3 L251.1 284.2 L252.2 284.1 L253.2 284.0 L254.3 283.8 L255.3 283.7 L256.4 283.6 L257.4 283.5 L258.5 283.4 L259.5 283.3 L260.6 283.2 L261.6 283.1 L262.7 283.0 L263.7 282.9 L264.8 282.8 L265.8 282.7 L266.9 282.6 L267.9 282.5 L269.0 282.4 L270.0 282.3 L271.1 282.2 L272.1 282.1 L273.2 282.0 L274.2 281.9 L275.3 281.8 L276.3 281.7 L277.4 281.6 L278.4 281.5 L279.5 281.4 L280.5 281.3 L281.6 281.2 L282.6 281.1 L283.7 281.0 L284.7 280.9 L285.8 280.8 L286.8 280.7 L287.9 280.6 L288.9 280.5 L290.0 280.4 L291.0 280.3 L292.1 280.2 L293.2 280.1 L294.2 280.0 L295.3 279.9 L296.3 279.8 L297.4 279.7 L298.4 279.7 L299.5 279.6 L300.5 279.5 L301.6 279.4 L302.6 279.3 L303.7 279.2 L304.7 279.1 L305.8 279.0 L306.8 278.9 L307.9 278.8 L308.9 278.8 L310.0 278.7 L311.0 278.6 L312.1 278.5 L313.1 278.4 L314.2 278.3 L315.2 278.2 L316.3 278.2 L317.3 278.1 L318.4 278.0 L319.4 277.9 L320.5 277.8 L321.5 277.7 L322.6 277.7 L323.6 277.6 L324.7 277.5 L325.7 277.4 L326.8 277.3 L327.8 277.2 L328.9 277.2 L329.9 277.1 L331.0 277.0" fill="none" stroke="#00868B" stroke-width="4.70" stroke-linecap="butt" stroke-linejoin="round" stroke-dasharray="10.2 9.6" stroke-dashoffset="0.0"/>
<path d="M80.1 391.8 L80.1 391.7 L80.1 391.7 L80.1 391.7 L80.1 391.7 L80.1 391.7 L80.1 391.7 L80.1 391.7 L80.1 391.7 L80.1 391.6 L80.1 391.6 L80.2 391.6 L80.2 391.6 L80.2 391.6 L80.2 391.6 L80.2 391.5 L80.2 391.5 L80.2 391.5 L80.2 391.4 L80.2 391.4 L80.2 391.4 L80.2 391.3 L80.3 391.3 L80.3 391.2 L80.3 391.2 L80.3 391.1 L80.3 391.0 L80.4 390.9 L80.4 390.9 L80.4 390.8 L80.4 390.7 L80.5 390.6 L80.5 390.4 L80.6 390.3 L80.6 390.2 L80.7 390.0 L80.7 389.8 L80.8 389.6 L80.9 389.4 L80.9 389.2 L81.0 389.0 L81.1 388.7 L81.2 388.5 L81.3 388.2 L81.5 387.9 L81.6 387.5 L81.7 387.2 L81.9 386.8 L82.1 386.4 L82.3 386.0 L82.5 385.5 L82.8 385.0 L83.1 384.6 L83.4 384.0 L83.7 383.5 L84.1 382.9 L84.5 382.4 L84.9 381.8 L85.4 381.2 L86.0 380.5 L86.6 379.9 L87.2 379.2 L88.0 378.6 L88.8 377.9 L89.7 377.2 L90.7 376.5 L91.8 375.8 L93.0 375.0 L94.3 374.2 L95.7 373.4 L97.3 372.6 L99.1 371.7 L101.1 370.8 L103.2 369.9 L105.6 368.9 L108.2 368.0 L111.1 366.9 L114.3 365.9 L117.8 364.8 L121.7 363.8 L126.0 362.7 L130.7 361.6 L136.0 360.5 L141.7 359.4 L148.0 358.4 L155.0 357.3 L162.8 356.3 L171.3 355.3 L180.6 354.2 L191.0 353.2 L202.4 352.2" fill="none" stroke="#8B3A3A" stroke-width="4.70" stroke-linecap="butt" stroke-linejoin="round"/>
<path d="M202.4 352.2 L204.0 352.1 L205.7 352.0 L207.3 351.9 L208.9 351.8 L210.5 351.7 L212.2 351.6 L213.8 351.5 L215.4 351.4 L217.0 351.3 L218.7 351.2 L220.3 351.1 L221.9 351.0 L223.6 350.9 L225.2 350.8 L226.8 350.7 L228.4 350.5 L230.1 350.4 L231.7 350.3 L233.3 350.2 L235.0 350.1 L236.6 350.0 L238.2 349.9 L239.8 349.8 L241.5 349.7 L243.1 349.6 L244.7 349.5 L246.3 349.4 L248.0 349.3 L249.6 349.2 L251.2 349.1 L252.9 349.0 L254.5 348.9 L256.1 348.8 L257.7 348.7 L259.4 348.6 L261.0 348.5 L262.6 348.4 L264.3 348.3 L265.9 348.2 L267.5 348.1 L269.1 348.0 L270.8 347.9 L272.4 347.8 L274.0 347.8 L275.6 347.7 L277.3 347.6 L278.9 347.5 L280.5 347.4 L282.2 347.3 L283.8 347.2 L285.4 347.1 L287.0 347.0 L288.7 346.9 L290.3 346.8 L291.9 346.7 L293.6 346.6 L295.2 346.5 L296.8 346.4 L298.4 346.3 L300.1 346.2 L301.7 346.1 L303.3 346.0 L305.0 345.9 L306.6 345.8 L308.2 345.7 L309.8 345.6 L311.5 345.5 L313.1 345.4 L314.7 345.3 L316.3 345.2 L318.0 345.2 L319.6 345.1 L321.2 345.0 L322.9 344.9 L324.5 344.8 L326.1 344.7 L327.7 344.6 L329.4 344.5 L331.0 344.4" fill="none" stroke="#8B3A3A" stroke-width="4.70" stroke-linecap="butt" stroke-linejoin="round" stroke-dasharray="10.2 9.6" stroke-dashoffset="0.0"/>
<circle cx="248.0" cy="284.5" r="4.3" fill="#00868B"/>
<polygon points="202.4,347.7 206.9,355.8 197.9,355.8" fill="#8B3A3A"/>
<path d="M79.8 391.0 L80.0 387.1 L80.3 383.2 L80.7 379.4 L81.2 375.5 L82.0 371.7 L82.9 367.9 L84.1 364.2 L85.3 360.5 L86.5 356.8 L87.8 353.1 L89.2 349.5 L90.9 346.0 L92.8 342.6 L95.1 339.4 L97.6 336.5 L100.3 333.7 L103.2 331.1 L106.2 328.6 L109.3 326.2 L112.4 323.8 L115.5 321.5 L118.7 319.3 L122.0 317.2 L125.3 315.2 L128.7 313.3 L132.1 311.4 L135.6 309.6 L139.1 307.9 L142.6 306.3 L146.2 304.7 L149.8 303.2 L153.4 301.7 L157.0 300.2 L160.6 298.8 L164.2 297.3 L167.8 295.9 L171.4 294.5 L175.1 293.1 L178.8 291.9 L182.5 290.8 L186.2 289.7 L190.0 288.8 L193.8 287.8 L197.6 286.8 L201.3 285.9 L205.1 284.9 L208.9 283.9 L212.6 282.9 L216.4 281.9 L220.2 280.9 L223.9 279.8 L227.6 278.7 L231.3 277.5 L235.1 276.3 L238.8 275.1 L242.5 274.0 L246.2 273.0 L250.0 272.2 L253.8 271.4 L257.6 270.7 L261.5 270.1 L265.3 269.5 L269.2 268.9 L273.0 268.3 L276.9 267.8 L280.8 267.3 L284.6 266.7 L288.5 266.2 L292.4 265.7 L296.2 265.2 L300.1 264.7 L303.9 264.2 L307.8 263.7 L311.7 263.2 L315.5 262.7 L319.4 262.3 L323.3 261.8 L327.1 261.4 L331.0 261.0 L331.0 292.4 L327.3 292.5 L323.5 292.6 L319.8 292.8 L316.0 292.9 L312.3 293.0 L308.6 293.2 L304.8 293.3 L301.1 293.5 L297.3 293.7 L293.6 293.8 L289.9 294.0 L286.1 294.2 L282.4 294.4 L278.6 294.5 L274.9 294.7 L271.2 294.9 L267.4 295.1 L263.7 295.3 L259.9 295.6 L256.2 295.8 L252.5 296.1 L248.7 296.3 L245.0 296.6 L241.3 297.0 L237.6 297.4 L233.8 297.8 L230.1 298.2 L226.4 298.7 L222.7 299.1 L219.0 299.6 L215.3 300.1 L211.5 300.6 L207.8 301.1 L204.1 301.6 L200.4 302.2 L196.7 302.8 L193.1 303.5 L189.4 304.3 L185.7 305.1 L182.1 306.0 L178.5 306.9 L174.9 307.9 L171.3 308.9 L167.7 310.0 L164.1 311.1 L160.5 312.2 L157.0 313.4 L153.4 314.5 L149.8 315.7 L146.3 316.9 L142.7 318.1 L139.2 319.4 L135.8 320.8 L132.3 322.2 L128.9 323.7 L125.4 325.2 L122.0 326.8 L118.7 328.5 L115.6 330.5 L112.5 332.6 L109.4 334.8 L106.4 337.0 L103.4 339.2 L100.5 341.6 L97.7 344.1 L95.1 346.8 L92.9 349.8 L91.0 353.1 L89.5 356.5 L88.0 359.9 L86.7 363.5 L85.5 367.0 L84.3 370.6 L83.2 374.1 L82.3 377.8 L81.5 381.4 L81.0 385.1 L80.6 388.9 L80.4 392.6Z" fill="#00868B" fill-opacity="0.20" stroke="none"/>
<path d="M79.8 391.0 L80.8 387.7 L82.0 384.6 L83.6 381.6 L85.5 378.8 L87.7 376.3 L90.2 373.9 L92.8 371.8 L95.6 369.9 L98.5 368.1 L101.4 366.5 L104.5 365.0 L107.6 363.6 L110.7 362.3 L113.8 361.1 L117.0 360.0 L120.3 359.0 L123.5 358.0 L126.7 357.1 L130.0 356.2 L133.3 355.3 L136.5 354.5 L139.8 353.7 L143.1 353.0 L146.4 352.3 L149.7 351.6 L153.1 350.9 L156.4 350.3 L159.7 349.7 L163.0 349.2 L166.4 348.7 L169.7 348.3 L173.1 347.8 L176.4 347.4 L179.8 346.9 L183.1 346.4 L186.5 345.9 L189.8 345.4 L193.2 344.9 L196.5 344.5 L199.9 344.0 L203.2 343.6 L206.6 343.2 L209.9 342.8 L213.3 342.4 L216.6 342.0 L220.0 341.6 L223.3 341.2 L226.7 340.8 L230.0 340.4 L233.4 340.0 L236.8 339.6 L240.1 339.2 L243.5 338.8 L246.8 338.4 L250.2 338.1 L253.5 337.7 L256.9 337.3 L260.3 337.0 L263.6 336.6 L267.0 336.3 L270.4 336.0 L273.7 335.7 L277.1 335.4 L280.4 335.1 L283.8 334.8 L287.2 334.5 L290.5 334.2 L293.9 333.9 L297.3 333.7 L300.6 333.4 L304.0 333.2 L307.4 332.9 L310.8 332.7 L314.1 332.4 L317.5 332.2 L320.9 332.0 L324.2 331.8 L327.6 331.6 L331.0 331.4 L331.0 358.6 L327.7 358.6 L324.4 358.7 L321.1 358.7 L317.8 358.7 L314.6 358.8 L311.3 358.8 L308.0 358.8 L304.7 358.9 L301.4 358.9 L298.1 358.9 L294.8 359.0 L291.5 359.0 L288.2 359.0 L285.0 359.1 L281.7 359.1 L278.4 359.1 L275.1 359.1 L271.8 359.2 L268.5 359.2 L265.2 359.2 L261.9 359.3 L258.6 359.3 L255.4 359.3 L252.1 359.4 L248.8 359.4 L245.5 359.4 L242.2 359.5 L238.9 359.5 L235.6 359.5 L232.3 359.6 L229.0 359.6 L225.8 359.7 L222.5 359.7 L219.2 359.7 L215.9 359.8 L212.6 359.8 L209.3 359.9 L206.0 360.0 L202.7 360.0 L199.4 360.1 L196.2 360.2 L192.9 360.4 L189.6 360.6 L186.3 360.8 L183.0 361.1 L179.8 361.3 L176.5 361.5 L173.2 361.7 L169.9 361.9 L166.6 362.0 L163.3 362.3 L160.1 362.5 L156.8 362.8 L153.5 363.2 L150.2 363.6 L147.0 364.0 L143.7 364.5 L140.5 365.0 L137.2 365.6 L134.0 366.1 L130.8 366.7 L127.5 367.4 L124.3 368.1 L121.1 368.8 L117.9 369.6 L114.8 370.5 L111.6 371.5 L108.5 372.5 L105.3 373.5 L102.2 374.5 L99.1 375.6 L96.1 376.9 L93.1 378.2 L90.2 379.8 L87.4 381.7 L85.1 383.9 L83.1 386.6 L81.6 389.5 L80.4 392.6Z" fill="#8B3A3A" fill-opacity="0.20" stroke="none"/>
<line x1="202.4" y1="399.0" x2="202.4" y2="260.0" stroke="#000" stroke-width="2.7" stroke-dasharray="10.7 10.7" stroke-dashoffset="0.0"/>
<path d="M68.2 255.2 V399.0 H343.0" fill="none" stroke="#000" stroke-width="2.1" stroke-linejoin="miter"/>
<line x1="62.6" y1="392.4" x2="67.2" y2="392.4" stroke="#333" stroke-width="1"/>
<text x="60.8" y="401.7" text-anchor="end" class="tk">0</text>
<line x1="62.6" y1="365.5" x2="67.2" y2="365.5" stroke="#333" stroke-width="1"/>
<text x="60.8" y="374.8" text-anchor="end" class="tk">10</text>
<line x1="62.6" y1="338.6" x2="67.2" y2="338.6" stroke="#333" stroke-width="1"/>
<text x="60.8" y="347.9" text-anchor="end" class="tk">20</text>
<line x1="62.6" y1="311.8" x2="67.2" y2="311.8" stroke="#333" stroke-width="1"/>
<text x="60.8" y="321.1" text-anchor="end" class="tk">30</text>
<line x1="62.6" y1="284.9" x2="67.2" y2="284.9" stroke="#333" stroke-width="1"/>
<text x="60.8" y="294.2" text-anchor="end" class="tk">40</text>
<line x1="62.6" y1="258.0" x2="67.2" y2="258.0" stroke="#333" stroke-width="1"/>
<text x="60.8" y="267.3" text-anchor="end" class="tk">50</text>
<line x1="80.0" y1="400.0" x2="80.0" y2="404.6" stroke="#333" stroke-width="1"/>
<text x="80.0" y="423.6" text-anchor="middle" class="tk">0</text>
<line x1="161.5" y1="400.0" x2="161.5" y2="404.6" stroke="#333" stroke-width="1"/>
<text x="161.5" y="423.6" text-anchor="middle" class="tk">400</text>
<line x1="243.0" y1="400.0" x2="243.0" y2="404.6" stroke="#333" stroke-width="1"/>
<text x="243.0" y="423.6" text-anchor="middle" class="tk">800</text>
<line x1="324.6" y1="400.0" x2="324.6" y2="404.6" stroke="#333" stroke-width="1"/>
<text x="324.6" y="423.6" text-anchor="middle" class="tk">1200</text>
<text x="66.2" y="256.1" class="pl">C<tspan class="pd" dx="0.6">.</tspan></text>
<use href="#ic-frog" transform="translate(100.85 239.20) scale(0.0803 0.0803)" fill="#000"/>
<use href="#ic-snake" transform="translate(148.07 239.94) scale(0.0876 0.0876)" fill="#000"/>
</g>
<g>
<path d="M412.9 391.4 L412.9 391.0 L412.9 391.0 L412.9 391.0 L412.9 390.9 L412.9 390.9 L412.9 390.9 L412.9 390.8 L412.9 390.8 L412.9 390.7 L412.9 390.7 L412.9 390.6 L412.9 390.5 L413.0 390.5 L413.0 390.4 L413.0 390.3 L413.0 390.2 L413.0 390.1 L413.0 390.0 L413.0 389.9 L413.0 389.8 L413.0 389.7 L413.0 389.6 L413.0 389.4 L413.0 389.3 L413.0 389.1 L413.1 389.0 L413.1 388.8 L413.1 388.6 L413.1 388.4 L413.1 388.2 L413.1 388.0 L413.2 387.7 L413.2 387.5 L413.2 387.2 L413.2 386.9 L413.2 386.6 L413.3 386.3 L413.3 386.0 L413.3 385.6 L413.4 385.2 L413.4 384.8 L413.5 384.4 L413.5 383.9 L413.6 383.5 L413.6 383.0 L413.7 382.4 L413.8 381.9 L413.8 381.3 L413.9 380.7 L414.0 380.0 L414.1 379.4 L414.2 378.7 L414.3 377.9 L414.4 377.2 L414.5 376.4 L414.7 375.5 L414.8 374.6 L415.0 373.7 L415.2 372.8 L415.4 371.8 L415.6 370.8 L415.8 369.8 L416.1 368.7 L416.3 367.6 L416.6 366.4 L416.9 365.2 L417.3 363.9 L417.7 362.6 L418.1 361.2 L418.5 359.8 L419.0 358.3 L419.5 356.7 L420.1 355.1 L420.7 353.4 L421.3 351.7 L422.0 349.9 L422.8 348.0 L423.7 346.1 L424.6 344.2 L425.6 342.2 L426.7 340.3 L427.8 338.3 L429.1 336.3 L430.5 334.3 L432.0 332.4 L433.6 330.5 L435.4 328.7 L437.3 326.9 L439.3 325.3 L441.6 323.7" fill="none" stroke="#00868B" stroke-width="4.70" stroke-linecap="butt" stroke-linejoin="round"/>
<path d="M441.6 323.7 L444.0 322.2 L446.5 320.8 L449.1 319.6 L451.7 318.5 L454.3 317.6 L457.1 316.7 L459.8 315.9 L462.6 315.3 L465.3 314.8 L468.1 314.3 L470.9 313.9 L473.8 313.6 L476.6 313.2 L479.4 313.0 L482.2 312.7 L485.0 312.5 L487.9 312.3 L490.7 312.1 L493.5 312.0 L496.4 311.9 L499.2 311.8 L502.0 311.7 L504.9 311.6 L507.7 311.6 L510.5 311.6 L513.4 311.5 L516.2 311.5 L519.0 311.5 L521.9 311.4 L524.7 311.4 L527.5 311.4 L530.4 311.4 L533.2 311.4 L536.0 311.4 L538.9 311.4 L541.7 311.4 L544.6 311.4 L547.4 311.4 L550.2 311.4 L553.1 311.4 L555.9 311.4 L558.7 311.4 L561.6 311.4 L564.4 311.4 L567.2 311.4 L570.1 311.4 L572.9 311.4 L575.7 311.4 L578.6 311.4 L581.4 311.4 L584.2 311.4 L587.1 311.4 L589.9 311.4 L592.7 311.4 L595.6 311.4 L598.4 311.4 L601.2 311.4 L604.1 311.4 L606.9 311.4 L609.7 311.4 L612.6 311.4 L615.4 311.4 L618.2 311.4 L621.1 311.4 L623.9 311.4 L626.8 311.4 L629.6 311.4 L632.4 311.4 L635.3 311.4 L638.1 311.4 L640.9 311.4 L643.8 311.4 L646.6 311.4 L649.4 311.4 L652.3 311.4 L655.1 311.4 L657.9 311.4 L660.8 311.4 L663.6 311.4" fill="none" stroke="#00868B" stroke-width="4.70" stroke-linecap="butt" stroke-linejoin="round" stroke-dasharray="10.2 9.6" stroke-dashoffset="0.0"/>
<path d="M412.9 391.4 L412.9 391.3 L412.9 391.3 L412.9 391.3 L412.9 391.3 L412.9 391.3 L412.9 391.3 L412.9 391.3 L412.9 391.2 L412.9 391.2 L412.9 391.2 L413.0 391.2 L413.0 391.2 L413.0 391.1 L413.0 391.1 L413.0 391.1 L413.0 391.0 L413.0 391.0 L413.0 391.0 L413.0 390.9 L413.0 390.9 L413.1 390.8 L413.1 390.7 L413.1 390.7 L413.1 390.6 L413.1 390.5 L413.2 390.4 L413.2 390.3 L413.2 390.2 L413.2 390.1 L413.3 389.9 L413.3 389.8 L413.4 389.6 L413.4 389.5 L413.5 389.3 L413.5 389.1 L413.6 388.9 L413.7 388.6 L413.8 388.3 L413.8 388.1 L413.9 387.8 L414.1 387.4 L414.2 387.1 L414.3 386.7 L414.5 386.3 L414.6 385.9 L414.8 385.4 L415.0 384.9 L415.3 384.4 L415.5 383.9 L415.8 383.3 L416.1 382.7 L416.4 382.1 L416.8 381.4 L417.2 380.7 L417.7 380.0 L418.2 379.2 L418.8 378.4 L419.4 377.5 L420.1 376.6 L420.8 375.6 L421.7 374.6 L422.6 373.5 L423.7 372.4 L424.8 371.2 L426.1 369.9 L427.5 368.6 L429.1 367.2 L430.8 365.7 L432.7 364.2 L434.8 362.6 L437.1 361.0 L439.7 359.3 L442.6 357.5 L445.8 355.7 L449.3 353.8 L453.1 351.9 L457.4 349.9 L462.2 347.8 L467.5 345.8 L473.3 343.6 L479.7 341.5 L486.9 339.3 L494.8 337.1 L503.5 334.9 L513.2 332.6 L523.9 330.3 L535.7 328.0 L548.8 325.5 L563.3 323.0 L579.4 320.3" fill="none" stroke="#8B3A3A" stroke-width="4.70" stroke-linecap="butt" stroke-linejoin="round"/>
<path d="M579.4 320.3 L580.5 320.1 L581.5 319.9 L582.6 319.7 L583.7 319.5 L584.7 319.3 L585.8 319.1 L586.8 318.9 L587.9 318.7 L589.0 318.5 L590.0 318.3 L591.1 318.1 L592.2 317.9 L593.2 317.7 L594.3 317.5 L595.4 317.3 L596.4 317.1 L597.5 316.9 L598.6 316.7 L599.6 316.5 L600.7 316.3 L601.7 316.0 L602.8 315.8 L603.9 315.6 L604.9 315.4 L606.0 315.2 L607.1 315.0 L608.1 314.8 L609.2 314.6 L610.3 314.4 L611.3 314.2 L612.4 314.0 L613.5 313.8 L614.5 313.6 L615.6 313.4 L616.6 313.2 L617.7 313.0 L618.8 312.8 L619.8 312.6 L620.9 312.4 L622.0 312.2 L623.0 312.0 L624.1 311.8 L625.2 311.6 L626.2 311.4 L627.3 311.2 L628.4 311.0 L629.4 310.8 L630.5 310.6 L631.6 310.5 L632.6 310.3 L633.7 310.1 L634.8 309.9 L635.8 309.7 L636.9 309.5 L638.0 309.3 L639.0 309.1 L640.1 308.9 L641.2 308.7 L642.2 308.6 L643.3 308.4 L644.4 308.2 L645.4 308.0 L646.5 307.8 L647.6 307.6 L648.6 307.5 L649.7 307.3 L650.8 307.1 L651.8 306.9 L652.9 306.7 L654.0 306.6 L655.0 306.4 L656.1 306.2 L657.2 306.0 L658.3 305.9 L659.3 305.7 L660.4 305.5 L661.5 305.3 L662.5 305.2 L663.6 305.0" fill="none" stroke="#8B3A3A" stroke-width="4.70" stroke-linecap="butt" stroke-linejoin="round" stroke-dasharray="10.2 9.6" stroke-dashoffset="0.0"/>
<circle cx="441.6" cy="323.7" r="4.3" fill="#00868B"/>
<polygon points="579.4,314.6 584.9,324.5 573.9,324.5" fill="#8B3A3A"/>
<path d="M412.6 390.8 L412.9 386.8 L413.3 382.8 L413.8 378.8 L414.4 374.9 L415.0 371.0 L415.7 367.1 L416.6 363.2 L417.7 359.3 L418.8 355.4 L419.9 351.6 L421.3 347.8 L422.7 344.1 L424.3 340.4 L426.1 336.9 L428.1 333.4 L430.2 330.0 L432.5 326.7 L434.8 323.5 L437.2 320.2 L439.7 317.1 L442.4 314.2 L445.2 311.3 L448.1 308.6 L451.2 306.0 L454.3 303.5 L457.5 301.2 L460.9 299.0 L464.3 297.0 L467.8 295.0 L471.4 293.1 L475.0 291.4 L478.6 289.8 L482.3 288.3 L486.1 286.9 L489.8 285.6 L493.7 284.4 L497.5 283.3 L501.4 282.4 L505.3 281.5 L509.2 280.7 L513.1 280.0 L517.1 279.2 L521.0 278.5 L524.9 277.8 L528.9 277.1 L532.8 276.5 L536.7 275.8 L540.7 275.0 L544.6 274.3 L548.5 273.6 L552.4 272.8 L556.4 272.1 L560.3 271.4 L564.3 270.8 L568.2 270.2 L572.1 269.6 L576.1 269.0 L580.1 268.5 L584.0 268.0 L588.0 267.5 L592.0 267.1 L595.9 266.6 L599.9 266.2 L603.9 265.8 L607.9 265.4 L611.8 265.0 L615.8 264.6 L619.8 264.3 L623.8 263.9 L627.7 263.6 L631.7 263.3 L635.7 262.9 L639.7 262.6 L643.7 262.3 L647.6 262.0 L651.6 261.7 L655.6 261.5 L659.6 261.2 L663.6 261.0 L663.6 362.0 L659.9 361.8 L656.2 361.6 L652.6 361.4 L648.9 361.1 L645.2 360.9 L641.5 360.6 L637.8 360.3 L634.2 360.0 L630.5 359.7 L626.8 359.4 L623.2 359.0 L619.5 358.7 L615.8 358.4 L612.2 358.0 L608.5 357.6 L604.8 357.3 L601.2 356.8 L597.5 356.4 L593.8 355.9 L590.2 355.5 L586.5 355.0 L582.9 354.5 L579.2 354.0 L575.6 353.5 L571.9 353.0 L568.3 352.5 L564.6 352.0 L561.0 351.5 L557.3 351.0 L553.7 350.5 L550.0 350.0 L546.4 349.4 L542.7 348.9 L539.1 348.3 L535.5 347.6 L531.8 347.0 L528.2 346.2 L524.7 345.3 L521.1 344.4 L517.5 343.6 L513.9 342.8 L510.3 342.0 L506.7 341.3 L503.1 340.6 L499.4 339.9 L495.8 339.2 L492.2 338.4 L488.6 337.7 L485.0 337.0 L481.4 336.2 L477.8 335.5 L474.1 334.8 L470.5 334.1 L466.9 333.4 L463.2 333.1 L459.5 332.9 L455.9 332.8 L452.2 332.9 L448.4 333.2 L444.7 333.8 L441.2 334.5 L437.9 336.0 L434.8 338.3 L432.2 340.7 L429.7 343.5 L427.5 346.6 L425.6 349.7 L423.9 352.9 L422.3 356.3 L420.9 359.7 L419.7 363.2 L418.7 366.7 L417.7 370.3 L416.9 373.9 L416.0 377.5 L415.3 381.1 L414.6 384.7 L414.0 388.3 L413.4 392.0Z" fill="#00868B" fill-opacity="0.20" stroke="none"/>
<path d="M412.6 390.4 L413.5 386.8 L414.8 383.4 L416.2 380.1 L417.9 377.0 L419.6 374.0 L421.9 371.2 L424.4 368.6 L427.0 366.1 L429.7 363.8 L432.4 361.5 L435.2 359.1 L437.9 356.8 L440.7 354.6 L443.7 352.6 L446.7 350.7 L449.8 348.9 L452.9 347.2 L456.1 345.4 L459.2 343.6 L462.3 341.8 L465.4 340.0 L468.5 338.3 L471.7 336.6 L474.9 335.1 L478.1 333.5 L481.4 332.1 L484.7 330.7 L488.0 329.3 L491.3 328.0 L494.7 326.7 L498.0 325.5 L501.4 324.3 L504.8 323.2 L508.2 322.1 L511.6 321.0 L515.1 320.0 L518.5 319.0 L522.0 318.1 L525.4 317.2 L528.9 316.2 L532.3 315.3 L535.8 314.3 L539.2 313.4 L542.7 312.4 L546.1 311.4 L549.6 310.5 L553.0 309.5 L556.5 308.5 L559.9 307.5 L563.3 306.5 L566.8 305.6 L570.2 304.6 L573.7 303.6 L577.1 302.6 L580.6 301.7 L584.0 300.7 L587.5 299.7 L590.9 298.8 L594.4 297.8 L597.8 296.9 L601.3 295.9 L604.7 295.0 L608.2 294.0 L611.6 293.1 L615.1 292.2 L618.5 291.3 L622.0 290.3 L625.5 289.4 L628.9 288.5 L632.4 287.6 L635.9 286.7 L639.3 285.8 L642.8 284.9 L646.2 284.0 L649.7 283.1 L653.2 282.2 L656.7 281.3 L660.1 280.5 L663.6 279.6 L663.6 331.6 L660.2 331.9 L656.9 332.1 L653.5 332.4 L650.1 332.7 L646.7 332.9 L643.4 333.2 L640.0 333.5 L636.6 333.8 L633.3 334.0 L629.9 334.3 L626.5 334.6 L623.2 334.9 L619.8 335.2 L616.4 335.4 L613.0 335.7 L609.7 336.0 L606.3 336.3 L602.9 336.6 L599.6 336.8 L596.2 337.1 L592.8 337.4 L589.5 337.7 L586.1 338.0 L582.7 338.3 L579.4 338.6 L576.0 338.9 L572.6 339.3 L569.3 339.6 L565.9 340.0 L562.5 340.4 L559.2 340.7 L555.8 341.1 L552.5 341.5 L549.1 341.9 L545.7 342.2 L542.4 342.6 L539.0 342.9 L535.6 343.3 L532.3 343.6 L528.9 343.9 L525.5 344.1 L522.2 344.4 L518.8 344.7 L515.4 345.0 L512.1 345.3 L508.7 345.6 L505.3 345.9 L501.9 346.2 L498.6 346.6 L495.2 347.0 L491.9 347.5 L488.6 348.0 L485.2 348.7 L481.9 349.4 L478.6 350.1 L475.3 350.9 L472.1 351.8 L468.8 352.7 L465.6 353.8 L462.4 354.8 L459.2 356.0 L456.0 357.1 L452.8 358.3 L449.7 359.5 L446.6 360.8 L443.4 362.1 L440.4 363.6 L437.3 365.1 L434.4 366.7 L431.6 368.6 L428.9 370.6 L426.3 372.8 L423.8 375.1 L421.5 377.7 L419.5 380.3 L417.7 383.1 L416.1 386.1 L414.6 389.2 L413.4 392.4Z" fill="#8B3A3A" fill-opacity="0.20" stroke="none"/>
<line x1="441.6" y1="399.2" x2="441.6" y2="260.0" stroke="#000" stroke-width="2.7" stroke-dasharray="10.7 10.7" stroke-dashoffset="0.0"/>
<path d="M400.6 254.4 V399.2 H676.0" fill="none" stroke="#000" stroke-width="2.1" stroke-linejoin="miter"/>
<line x1="395.0" y1="392.4" x2="399.6" y2="392.4" stroke="#333" stroke-width="1"/>
<text x="393.2" y="401.7" text-anchor="end" class="tk">0</text>
<line x1="395.0" y1="358.0" x2="399.6" y2="358.0" stroke="#333" stroke-width="1"/>
<text x="393.2" y="367.3" text-anchor="end" class="tk">10</text>
<line x1="395.0" y1="323.7" x2="399.6" y2="323.7" stroke="#333" stroke-width="1"/>
<text x="393.2" y="333.0" text-anchor="end" class="tk">20</text>
<line x1="395.0" y1="289.3" x2="399.6" y2="289.3" stroke="#333" stroke-width="1"/>
<text x="393.2" y="298.6" text-anchor="end" class="tk">30</text>
<line x1="395.0" y1="255.0" x2="399.6" y2="255.0" stroke="#333" stroke-width="1"/>
<text x="393.2" y="264.3" text-anchor="end" class="tk">40</text>
<line x1="412.8" y1="400.2" x2="412.8" y2="404.8" stroke="#333" stroke-width="1"/>
<text x="412.8" y="423.8" text-anchor="middle" class="tk">0</text>
<line x1="496.0" y1="400.2" x2="496.0" y2="404.8" stroke="#333" stroke-width="1"/>
<text x="496.0" y="423.8" text-anchor="middle" class="tk">100</text>
<line x1="579.2" y1="400.2" x2="579.2" y2="404.8" stroke="#333" stroke-width="1"/>
<text x="579.2" y="423.8" text-anchor="middle" class="tk">200</text>
<line x1="662.4" y1="400.2" x2="662.4" y2="404.8" stroke="#333" stroke-width="1"/>
<text x="662.4" y="423.8" text-anchor="middle" class="tk">300</text>
<text x="406.4" y="254.1" class="pl">D<tspan class="pd" dx="0.6">.</tspan></text>
</g>
<g>
<path d="M79.6 589.0 L79.6 586.7 L79.6 586.4 L79.6 586.2 L79.6 585.9 L79.6 585.7 L79.6 585.4 L79.6 585.0 L79.6 584.7 L79.6 584.3 L79.6 583.8 L79.6 583.4 L79.7 582.9 L79.7 582.3 L79.7 581.7 L79.7 581.1 L79.7 580.4 L79.7 579.6 L79.7 578.8 L79.7 577.9 L79.7 577.0 L79.7 575.9 L79.7 574.8 L79.7 573.7 L79.8 572.4 L79.8 571.1 L79.8 569.6 L79.8 568.1 L79.8 566.5 L79.9 564.8 L79.9 563.0 L79.9 561.2 L79.9 559.2 L80.0 557.2 L80.0 555.1 L80.0 552.9 L80.1 550.6 L80.1 548.4 L80.2 546.0 L80.2 543.7 L80.3 541.3 L80.3 538.9 L80.4 536.5 L80.5 534.1 L80.6 531.8 L80.7 529.5 L80.8 527.2 L80.9 525.0 L81.0 522.8 L81.1 520.7 L81.3 518.6 L81.4 516.5 L81.6 514.5 L81.8 512.5 L82.0 510.5 L82.3 508.5 L82.5 506.6 L82.8 504.6 L83.1 502.7 L83.4 500.8 L83.8 499.0 L84.2 497.2 L84.6 495.4 L85.1 493.7 L85.6 492.0 L86.2 490.5 L86.8 489.0 L87.5 487.5 L88.2 486.2 L89.0 484.9 L89.9 483.6 L90.9 482.4 L92.0 481.3 L93.1 480.2 L94.4 479.1 L95.8 478.0 L97.3 477.0 L99.0 476.0 L100.9 475.1 L102.9 474.2 L105.1 473.3 L107.5 472.5 L110.1 471.8 L113.0 471.1 L116.2 470.5 L119.7 469.9 L123.5 469.5 L127.6 469.0 L132.2 468.7 L137.1 468.4 L142.6 468.2" fill="none" stroke="#00868B" stroke-width="4.70" stroke-linecap="butt" stroke-linejoin="round"/>
<path d="M142.6 468.1 L331.0 468.1" fill="none" stroke="#00868B" stroke-width="4.70" stroke-linecap="butt" stroke-linejoin="round" stroke-dasharray="10.2 9.6" stroke-dashoffset="0.0"/>
<path d="M79.6 589.0 L79.6 588.5 L79.6 588.5 L79.6 588.4 L79.6 588.4 L79.6 588.3 L79.6 588.2 L79.6 588.2 L79.6 588.1 L79.6 588.0 L79.6 587.9 L79.7 587.7 L79.7 587.6 L79.7 587.5 L79.7 587.3 L79.7 587.1 L79.7 586.9 L79.7 586.7 L79.7 586.5 L79.7 586.2 L79.7 586.0 L79.8 585.6 L79.8 585.3 L79.8 584.9 L79.8 584.6 L79.8 584.1 L79.9 583.6 L79.9 583.1 L79.9 582.6 L79.9 582.0 L80.0 581.3 L80.0 580.6 L80.1 579.9 L80.1 579.1 L80.2 578.2 L80.2 577.3 L80.3 576.3 L80.4 575.3 L80.5 574.2 L80.5 573.1 L80.6 571.9 L80.8 570.7 L80.9 569.4 L81.0 568.0 L81.2 566.6 L81.3 565.1 L81.5 563.6 L81.7 562.1 L82.0 560.5 L82.2 558.9 L82.5 557.3 L82.8 555.6 L83.1 553.9 L83.5 552.2 L83.9 550.5 L84.4 548.8 L84.9 547.1 L85.5 545.4 L86.1 543.8 L86.8 542.2 L87.6 540.7 L88.4 539.2 L89.4 537.8 L90.4 536.5 L91.6 535.2 L92.9 534.0 L94.3 532.9 L95.8 531.8 L97.6 530.8 L99.5 529.8 L101.6 528.9 L104.0 528.0 L106.6 527.1 L109.5 526.3 L112.7 525.5 L116.2 524.7 L120.1 523.9 L124.4 523.2 L129.2 522.5 L134.5 521.7 L140.4 520.9 L146.9 520.2 L154.1 519.4 L162.0 518.5 L170.9 517.6 L180.6 516.7 L191.4 515.7 L203.3 514.7 L216.6 513.5 L231.2 512.3 L247.4 511.0" fill="none" stroke="#8B3A3A" stroke-width="4.70" stroke-linecap="butt" stroke-linejoin="round"/>
<path d="M247.4 511.0 L248.5 511.0 L249.5 510.9 L250.6 510.9 L251.6 510.9 L252.7 510.8 L253.7 510.8 L254.8 510.8 L255.9 510.7 L256.9 510.7 L258.0 510.7 L259.0 510.6 L260.1 510.6 L261.2 510.6 L262.2 510.5 L263.3 510.5 L264.3 510.5 L265.4 510.4 L266.4 510.4 L267.5 510.4 L268.6 510.4 L269.6 510.3 L270.7 510.3 L271.7 510.3 L272.8 510.2 L273.9 510.2 L274.9 510.2 L276.0 510.1 L277.0 510.1 L278.1 510.1 L279.1 510.1 L280.2 510.0 L281.3 510.0 L282.3 510.0 L283.4 510.0 L284.4 509.9 L285.5 509.9 L286.6 509.9 L287.6 509.9 L288.7 509.8 L289.7 509.8 L290.8 509.8 L291.8 509.8 L292.9 509.7 L294.0 509.7 L295.0 509.7 L296.1 509.7 L297.1 509.6 L298.2 509.6 L299.2 509.6 L300.3 509.6 L301.4 509.5 L302.4 509.5 L303.5 509.5 L304.5 509.5 L305.6 509.5 L306.7 509.4 L307.7 509.4 L308.8 509.4 L309.8 509.4 L310.9 509.4 L311.9 509.3 L313.0 509.3 L314.1 509.3 L315.1 509.3 L316.2 509.3 L317.2 509.2 L318.3 509.2 L319.4 509.2 L320.4 509.2 L321.5 509.2 L322.5 509.1 L323.6 509.1 L324.6 509.1 L325.7 509.1 L326.8 509.1 L327.8 509.0 L328.9 509.0 L329.9 509.0 L331.0 509.0" fill="none" stroke="#8B3A3A" stroke-width="4.70" stroke-linecap="butt" stroke-linejoin="round" stroke-dasharray="10.2 9.6" stroke-dashoffset="0.0"/>
<circle cx="142.6" cy="468.2" r="4.3" fill="#00868B"/>
<polygon points="247.4,505.1 252.9,515.0 241.9,515.0" fill="#8B3A3A"/>
<path d="M79.2 588.0 L79.2 583.5 L79.3 578.9 L79.3 574.4 L79.4 569.9 L79.4 565.4 L79.5 560.8 L79.5 556.3 L79.6 551.8 L79.7 547.3 L79.8 542.7 L79.9 538.2 L80.0 533.7 L80.2 529.2 L80.4 524.7 L80.6 520.1 L80.9 515.6 L81.3 511.1 L81.7 506.6 L82.3 502.1 L83.0 497.6 L83.9 493.2 L85.1 488.8 L86.7 484.6 L88.5 480.4 L90.5 476.2 L93.3 472.9 L97.1 470.3 L101.1 468.2 L105.3 466.5 L109.6 465.1 L114.0 464.1 L118.5 463.2 L122.9 462.6 L127.4 462.0 L131.9 461.6 L136.5 461.3 L141.0 461.1 L145.5 460.8 L150.0 460.6 L154.5 460.3 L159.1 460.1 L163.6 459.9 L168.1 459.7 L172.6 459.5 L177.1 459.3 L181.7 459.1 L186.2 458.9 L190.7 458.8 L195.2 458.6 L199.8 458.6 L204.3 458.5 L208.8 458.4 L213.3 458.4 L217.9 458.3 L222.4 458.2 L226.9 458.2 L231.4 458.1 L236.0 458.1 L240.5 458.1 L245.0 458.0 L249.5 458.0 L254.1 458.0 L258.6 458.0 L263.1 458.0 L267.6 458.0 L272.2 458.0 L276.7 458.0 L281.2 458.0 L285.7 458.0 L290.3 458.0 L294.8 458.0 L299.3 458.0 L303.8 458.0 L308.4 458.0 L312.9 458.0 L317.4 458.0 L321.9 458.0 L326.5 458.0 L331.0 458.0 L331.0 478.0 L326.6 478.0 L322.2 478.0 L317.8 478.0 L313.4 478.0 L309.0 478.0 L304.6 478.0 L300.2 478.0 L295.8 478.0 L291.4 478.0 L287.0 478.0 L282.6 478.0 L278.2 478.0 L273.7 478.0 L269.3 478.0 L264.9 478.0 L260.5 478.0 L256.1 478.0 L251.7 478.0 L247.3 478.0 L242.9 478.0 L238.5 477.9 L234.1 477.9 L229.7 477.9 L225.3 477.8 L220.9 477.8 L216.5 477.7 L212.1 477.6 L207.7 477.6 L203.3 477.5 L198.9 477.4 L194.5 477.3 L190.1 477.2 L185.7 477.0 L181.3 476.7 L176.9 476.4 L172.5 476.2 L168.1 475.9 L163.7 475.5 L159.3 475.1 L154.9 474.7 L150.5 474.3 L146.1 474.1 L141.7 474.0 L137.3 474.3 L133.0 474.7 L128.6 475.1 L124.2 475.4 L119.8 475.8 L115.4 476.4 L111.1 477.2 L106.7 478.0 L102.5 479.2 L98.5 481.1 L94.9 483.6 L91.6 486.5 L88.5 489.6 L86.7 493.6 L85.4 497.8 L84.3 502.1 L83.5 506.4 L82.9 510.8 L82.5 515.2 L82.1 519.6 L81.7 524.0 L81.4 528.4 L81.2 532.8 L81.1 537.2 L80.9 541.6 L80.8 546.0 L80.7 550.4 L80.6 554.8 L80.6 559.2 L80.5 563.6 L80.4 568.0 L80.4 572.4 L80.3 576.8 L80.3 581.2 L80.2 585.6 L80.2 590.0Z" fill="#00868B" fill-opacity="0.20" stroke="none"/>
<path d="M79.2 588.0 L79.3 584.2 L79.5 580.3 L79.8 576.5 L80.0 572.7 L80.3 568.9 L80.7 565.0 L81.2 561.2 L81.7 557.4 L82.4 553.7 L83.2 549.9 L84.2 546.2 L85.4 542.5 L86.8 539.0 L88.6 535.5 L90.9 532.6 L93.8 530.0 L96.9 527.6 L100.1 525.6 L103.6 524.1 L107.2 522.8 L110.9 521.7 L114.6 520.8 L118.4 520.0 L122.1 519.2 L125.9 518.4 L129.7 517.7 L133.4 516.8 L137.1 515.9 L140.9 515.0 L144.6 514.1 L148.3 513.2 L152.1 512.4 L155.8 511.5 L159.6 510.7 L163.3 510.0 L167.1 509.3 L170.9 508.6 L174.6 507.9 L178.4 507.3 L182.2 506.6 L186.0 505.9 L189.7 505.2 L193.5 504.6 L197.3 504.0 L201.1 503.4 L204.9 502.9 L208.7 502.3 L212.5 501.9 L216.3 501.4 L220.1 501.0 L223.9 500.6 L227.8 500.2 L231.6 499.9 L235.4 499.6 L239.2 499.3 L243.1 499.0 L246.9 498.6 L250.7 498.3 L254.5 498.0 L258.3 497.7 L262.2 497.3 L266.0 497.0 L269.8 496.7 L273.6 496.3 L277.5 496.0 L281.3 495.7 L285.1 495.4 L288.9 495.1 L292.7 494.8 L296.6 494.5 L300.4 494.2 L304.2 493.9 L308.0 493.6 L311.9 493.3 L315.7 493.1 L319.5 492.8 L323.3 492.5 L327.2 492.3 L331.0 492.0 L331.0 525.0 L327.3 525.0 L323.5 525.0 L319.8 525.0 L316.0 525.0 L312.3 525.0 L308.5 525.0 L304.8 525.0 L301.0 525.0 L297.3 525.0 L293.5 525.0 L289.8 525.0 L286.0 525.0 L282.3 525.0 L278.5 525.0 L274.8 525.0 L271.0 525.0 L267.3 525.0 L263.5 525.0 L259.8 525.0 L256.0 525.0 L252.3 525.0 L248.5 525.0 L244.8 525.0 L241.0 524.9 L237.3 524.8 L233.6 524.6 L229.8 524.5 L226.1 524.3 L222.3 524.1 L218.6 523.9 L214.8 523.7 L211.1 523.5 L207.3 523.3 L203.6 523.1 L199.9 523.0 L196.1 523.0 L192.4 523.1 L188.6 523.2 L184.9 523.4 L181.1 523.6 L177.4 523.7 L173.6 523.8 L169.9 524.0 L166.1 524.1 L162.4 524.3 L158.7 524.5 L154.9 524.8 L151.2 525.1 L147.5 525.5 L143.7 525.9 L140.0 526.2 L136.3 526.6 L132.5 526.9 L128.8 527.3 L125.1 527.7 L121.4 528.2 L117.7 528.8 L114.0 529.5 L110.3 530.3 L106.7 531.3 L103.1 532.4 L99.6 533.7 L96.3 535.5 L92.7 536.9 L89.8 538.6 L87.9 541.9 L86.5 545.7 L85.3 549.2 L84.3 552.8 L83.5 556.5 L82.7 560.1 L82.2 563.8 L81.7 567.6 L81.3 571.3 L80.9 575.0 L80.7 578.8 L80.5 582.5 L80.3 586.3 L80.2 590.0Z" fill="#8B3A3A" fill-opacity="0.20" stroke="none"/>
<line x1="142.6" y1="595.8" x2="142.6" y2="457.4" stroke="#000" stroke-width="2.7" stroke-dasharray="10.7 10.7" stroke-dashoffset="0.0"/>
<path d="M68.2 451.3 V595.8 H343.0" fill="none" stroke="#000" stroke-width="2.1" stroke-linejoin="miter"/>
<line x1="62.6" y1="589.4" x2="67.2" y2="589.4" stroke="#333" stroke-width="1"/>
<text x="60.8" y="598.7" text-anchor="end" class="tk">0</text>
<line x1="62.6" y1="546.1" x2="67.2" y2="546.1" stroke="#333" stroke-width="1"/>
<text x="60.8" y="555.4" text-anchor="end" class="tk">5</text>
<line x1="62.6" y1="502.7" x2="67.2" y2="502.7" stroke="#333" stroke-width="1"/>
<text x="60.8" y="512.0" text-anchor="end" class="tk">10</text>
<line x1="62.6" y1="459.4" x2="67.2" y2="459.4" stroke="#333" stroke-width="1"/>
<text x="60.8" y="468.7" text-anchor="end" class="tk">15</text>
<line x1="80.1" y1="596.8" x2="80.1" y2="601.4" stroke="#333" stroke-width="1"/>
<text x="80.1" y="620.4" text-anchor="middle" class="tk">0</text>
<line x1="149.5" y1="596.8" x2="149.5" y2="601.4" stroke="#333" stroke-width="1"/>
<text x="149.5" y="620.4" text-anchor="middle" class="tk">250</text>
<line x1="218.9" y1="596.8" x2="218.9" y2="601.4" stroke="#333" stroke-width="1"/>
<text x="218.9" y="620.4" text-anchor="middle" class="tk">500</text>
<line x1="288.3" y1="596.8" x2="288.3" y2="601.4" stroke="#333" stroke-width="1"/>
<text x="288.3" y="620.4" text-anchor="middle" class="tk">750</text>
<text x="66.4" y="446.5" class="pl">E<tspan class="pd" dx="0.6">.</tspan></text>
<use href="#ic-deer" transform="translate(277.50 535.50) scale(0.0847 0.0832)" fill="#000"/>
</g>
<g>
<path d="M431.6 589.0 L431.6 587.7 L431.6 587.6 L431.6 587.5 L431.6 587.3 L431.6 587.2 L431.6 587.1 L431.6 587.0 L431.6 586.8 L431.6 586.7 L431.6 586.5 L431.6 586.3 L431.6 586.2 L431.6 586.0 L431.7 585.8 L431.7 585.5 L431.7 585.3 L431.7 585.1 L431.7 584.8 L431.7 584.5 L431.7 584.2 L431.7 583.9 L431.7 583.6 L431.7 583.3 L431.7 582.9 L431.7 582.6 L431.7 582.2 L431.7 581.8 L431.7 581.4 L431.8 580.9 L431.8 580.5 L431.8 580.0 L431.8 579.5 L431.8 579.0 L431.8 578.5 L431.8 577.9 L431.9 577.4 L431.9 576.8 L431.9 576.2 L431.9 575.6 L431.9 574.9 L432.0 574.3 L432.0 573.6 L432.0 572.8 L432.1 572.1 L432.1 571.3 L432.1 570.5 L432.2 569.6 L432.2 568.7 L432.3 567.8 L432.3 566.8 L432.4 565.7 L432.4 564.6 L432.5 563.5 L432.6 562.3 L432.6 561.0 L432.7 559.6 L432.8 558.3 L432.9 556.8 L433.0 555.3 L433.1 553.7 L433.2 552.0 L433.3 550.3 L433.5 548.6 L433.6 546.8 L433.8 544.9 L433.9 543.0 L434.1 541.1 L434.3 539.1 L434.5 537.1 L434.7 535.1 L434.9 533.2 L435.2 531.2 L435.5 529.2 L435.8 527.3 L436.1 525.4 L436.4 523.6 L436.8 521.9 L437.2 520.2 L437.6 518.7 L438.1 517.2 L438.5 515.9 L439.1 514.6 L439.6 513.5 L440.2 512.5 L440.9 511.7 L441.6 510.9 L442.4 510.3 L443.2 509.8 L444.1 509.3 L445.0 509.0" fill="none" stroke="#00868B" stroke-width="4.70" stroke-linecap="butt" stroke-linejoin="round"/>
<path d="M445.0 509.0 L665.0 509.0" fill="none" stroke="#00868B" stroke-width="4.70" stroke-linecap="butt" stroke-linejoin="round" stroke-dasharray="10.2 9.6" stroke-dashoffset="0.0"/>
<path d="M431.6 589.0 L431.6 587.6 L431.6 587.5 L431.6 587.3 L431.6 587.1 L431.6 587.0 L431.6 586.7 L431.6 586.5 L431.6 586.3 L431.6 586.0 L431.6 585.7 L431.7 585.4 L431.7 585.0 L431.7 584.6 L431.7 584.2 L431.7 583.8 L431.7 583.3 L431.7 582.7 L431.7 582.2 L431.7 581.6 L431.7 580.9 L431.7 580.2 L431.8 579.5 L431.8 578.7 L431.8 577.8 L431.8 576.9 L431.8 576.0 L431.9 575.0 L431.9 574.0 L431.9 573.0 L432.0 571.9 L432.0 570.7 L432.1 569.6 L432.1 568.4 L432.2 567.2 L432.2 566.0 L432.3 564.8 L432.3 563.5 L432.4 562.2 L432.5 560.9 L432.6 559.6 L432.7 558.2 L432.8 556.8 L433.0 555.4 L433.1 553.8 L433.3 552.2 L433.5 550.6 L433.6 548.8 L433.9 547.0 L434.1 545.1 L434.4 543.2 L434.7 541.1 L435.0 539.0 L435.3 536.8 L435.7 534.6 L436.2 532.3 L436.7 529.9 L437.2 527.6 L437.8 525.2 L438.4 522.8 L439.2 520.4 L440.0 518.0 L440.9 515.6 L441.8 513.2 L442.9 510.9 L444.1 508.6 L445.4 506.4 L446.9 504.2 L448.5 502.0 L450.3 499.8 L452.3 497.7 L454.5 495.5 L456.9 493.4 L459.6 491.3 L462.6 489.2 L465.8 487.1 L469.4 485.1 L473.5 483.1 L477.9 481.2 L482.8 479.4 L488.2 477.7 L494.2 476.1 L500.8 474.7 L508.1 473.4 L516.2 472.3 L525.2 471.3 L535.1 470.5 L546.1 469.8 L558.2 469.3 L571.6 468.8 L586.4 468.4" fill="none" stroke="#8B3A3A" stroke-width="4.70" stroke-linecap="butt" stroke-linejoin="round"/>
<path d="M586.4 468.4 L657.0 468.4" fill="none" stroke="#8B3A3A" stroke-width="4.70" stroke-linecap="butt" stroke-linejoin="round" stroke-dasharray="10.2 9.6" stroke-dashoffset="0.0"/>
<circle cx="445.0" cy="509.0" r="2.6" fill="#00868B"/>
<polygon points="586.4,462.1 591.9,472.0 580.9,472.0" fill="#8B3A3A"/>
<path d="M431.2 588.0 L431.3 584.0 L431.4 580.1 L431.5 576.1 L431.6 572.1 L431.8 568.2 L432.0 564.2 L432.1 560.2 L432.3 556.3 L432.5 552.3 L432.8 548.4 L433.0 544.4 L433.4 540.4 L433.7 536.5 L434.1 532.5 L434.6 528.6 L435.1 524.7 L435.6 520.7 L436.3 516.8 L436.9 512.9 L437.7 509.0 L438.6 505.1 L440.1 501.4 L443.1 498.8 L446.8 497.5 L450.7 496.8 L454.7 496.6 L458.7 496.6 L462.6 496.6 L466.6 496.6 L470.5 496.6 L474.5 496.6 L478.5 496.6 L482.5 496.6 L486.4 496.6 L490.4 496.6 L494.4 496.6 L498.4 496.6 L502.3 496.6 L506.3 496.6 L510.3 496.6 L514.2 496.6 L518.2 496.6 L522.2 496.6 L526.1 496.6 L530.1 496.6 L534.1 496.6 L538.0 496.6 L542.0 496.6 L546.0 496.6 L549.9 496.6 L553.9 496.6 L557.9 496.6 L561.8 496.6 L565.8 496.6 L569.8 496.6 L573.7 496.6 L577.7 496.6 L581.7 496.6 L585.7 496.6 L589.6 496.6 L593.6 496.6 L597.6 496.6 L601.5 496.6 L605.5 496.6 L609.5 496.6 L613.4 496.6 L617.4 496.6 L621.4 496.6 L625.3 496.6 L629.3 496.6 L633.3 496.6 L637.2 496.6 L641.2 496.6 L645.2 496.6 L649.1 496.6 L653.1 496.6 L657.1 496.6 L661.0 496.6 L665.0 496.6 L665.0 521.4 L661.2 521.4 L657.4 521.4 L653.7 521.4 L649.9 521.4 L646.1 521.4 L642.3 521.4 L638.6 521.4 L634.8 521.4 L631.0 521.4 L627.2 521.4 L623.5 521.4 L619.7 521.4 L615.9 521.4 L612.1 521.4 L608.4 521.4 L604.6 521.4 L600.8 521.4 L597.0 521.4 L593.3 521.4 L589.5 521.4 L585.7 521.4 L581.9 521.4 L578.2 521.4 L574.4 521.4 L570.6 521.4 L566.8 521.4 L563.1 521.4 L559.3 521.4 L555.5 521.4 L551.7 521.4 L548.0 521.4 L544.2 521.4 L540.4 521.4 L536.6 521.4 L532.9 521.4 L529.1 521.4 L525.3 521.4 L521.5 521.4 L517.8 521.4 L514.0 521.4 L510.2 521.4 L506.4 521.4 L502.7 521.4 L498.9 521.4 L495.1 521.4 L491.3 521.4 L487.6 521.4 L483.8 521.4 L480.0 521.4 L476.2 521.4 L472.5 521.4 L468.7 521.4 L464.9 521.3 L461.1 521.2 L457.4 520.9 L453.7 520.2 L450.1 519.0 L446.7 517.1 L443.1 516.8 L440.0 519.0 L438.7 522.4 L437.8 526.2 L437.0 529.8 L436.3 533.6 L435.8 537.3 L435.2 541.0 L434.8 544.8 L434.3 548.5 L434.0 552.3 L433.7 556.1 L433.4 559.8 L433.2 563.6 L433.0 567.4 L432.8 571.1 L432.6 574.9 L432.5 578.7 L432.4 582.4 L432.3 586.2 L432.2 590.0Z" fill="#00868B" fill-opacity="0.20" stroke="none"/>
<path d="M431.2 588.0 L431.2 583.9 L431.3 579.9 L431.4 575.8 L431.5 571.8 L431.7 567.7 L431.9 563.6 L432.1 559.6 L432.3 555.5 L432.6 551.5 L432.9 547.4 L433.3 543.4 L433.8 539.3 L434.3 535.3 L434.9 531.3 L435.5 527.3 L436.4 523.3 L437.3 519.3 L438.5 515.4 L439.9 511.6 L441.6 508.0 L443.9 504.6 L446.1 501.2 L448.2 497.7 L450.5 494.3 L453.0 491.2 L455.8 488.1 L458.6 485.2 L461.7 482.6 L465.0 480.2 L468.4 478.0 L471.9 475.9 L475.5 473.9 L479.2 472.3 L483.0 471.1 L487.0 470.1 L491.0 469.2 L494.9 468.1 L498.9 467.2 L502.9 466.5 L506.9 466.0 L510.9 465.5 L514.9 464.9 L519.0 464.4 L523.0 463.8 L527.0 463.3 L531.1 462.9 L535.1 462.5 L539.2 462.1 L543.2 461.7 L547.3 461.4 L551.3 461.1 L555.4 460.8 L559.4 460.5 L563.5 460.2 L567.5 459.9 L571.6 459.7 L575.6 459.5 L579.7 459.3 L583.7 459.1 L587.8 459.0 L591.9 458.8 L595.9 458.7 L600.0 458.6 L604.1 458.5 L608.1 458.4 L612.2 458.3 L616.2 458.2 L620.3 458.2 L624.4 458.2 L628.4 458.1 L632.5 458.1 L636.6 458.1 L640.6 458.1 L644.7 458.0 L648.7 458.0 L652.8 458.0 L656.9 458.0 L660.9 458.0 L665.0 458.0 L665.0 479.4 L661.1 479.3 L657.2 479.3 L653.3 479.2 L649.4 479.1 L645.5 479.0 L641.6 478.9 L637.7 478.8 L633.7 478.7 L629.8 478.6 L625.9 478.6 L622.0 478.5 L618.1 478.3 L614.2 478.2 L610.3 478.1 L606.4 477.9 L602.5 477.8 L598.6 477.6 L594.7 477.5 L590.8 477.4 L586.9 477.4 L583.0 477.4 L579.1 477.5 L575.2 477.7 L571.3 477.9 L567.4 478.2 L563.5 478.5 L559.6 478.7 L555.7 479.0 L551.8 479.2 L547.9 479.4 L544.0 479.5 L540.0 479.6 L536.1 479.6 L532.2 479.7 L528.3 479.9 L524.4 480.0 L520.5 480.2 L516.6 480.4 L512.7 480.6 L508.8 480.9 L504.9 481.3 L501.1 481.8 L497.2 482.4 L493.3 483.2 L489.6 484.1 L486.0 485.5 L482.4 487.3 L478.9 488.9 L475.2 490.4 L471.6 491.9 L468.1 493.5 L464.6 495.3 L461.2 497.2 L458.0 499.4 L454.9 501.9 L452.0 504.5 L449.2 507.2 L446.4 510.0 L444.4 513.3 L443.2 517.0 L441.8 520.7 L440.4 524.3 L439.2 528.1 L438.1 531.8 L437.2 535.6 L436.4 539.4 L435.7 543.3 L435.1 547.1 L434.5 551.0 L434.0 554.9 L433.7 558.8 L433.4 562.7 L433.1 566.6 L432.9 570.5 L432.7 574.4 L432.6 578.3 L432.4 582.2 L432.3 586.1 L432.2 590.0Z" fill="#8B3A3A" fill-opacity="0.20" stroke="none"/>
<line x1="445.0" y1="595.8" x2="445.0" y2="457.0" stroke="#000" stroke-width="2.7" stroke-dasharray="10.7 10.7" stroke-dashoffset="0.0"/>
<path d="M420.4 451.3 V595.8 H675.6" fill="none" stroke="#000" stroke-width="2.1" stroke-linejoin="miter"/>
<line x1="414.8" y1="589.4" x2="419.4" y2="589.4" stroke="#333" stroke-width="1"/>
<text x="413.0" y="598.7" text-anchor="end" class="tk">0.0</text>
<line x1="414.8" y1="555.8" x2="419.4" y2="555.8" stroke="#333" stroke-width="1"/>
<text x="413.0" y="565.1" text-anchor="end" class="tk">2.5</text>
<line x1="414.8" y1="522.2" x2="419.4" y2="522.2" stroke="#333" stroke-width="1"/>
<text x="413.0" y="531.5" text-anchor="end" class="tk">5.0</text>
<line x1="414.8" y1="488.6" x2="419.4" y2="488.6" stroke="#333" stroke-width="1"/>
<text x="413.0" y="497.9" text-anchor="end" class="tk">7.5</text>
<line x1="414.8" y1="455.0" x2="419.4" y2="455.0" stroke="#333" stroke-width="1"/>
<text x="413.0" y="464.3" text-anchor="end" class="tk">10.0</text>
<line x1="432.4" y1="596.8" x2="432.4" y2="601.4" stroke="#333" stroke-width="1"/>
<text x="432.4" y="620.4" text-anchor="middle" class="tk">0</text>
<line x1="509.3" y1="596.8" x2="509.3" y2="601.4" stroke="#333" stroke-width="1"/>
<text x="509.3" y="620.4" text-anchor="middle" class="tk">100</text>
<line x1="586.1" y1="596.8" x2="586.1" y2="601.4" stroke="#333" stroke-width="1"/>
<text x="586.1" y="620.4" text-anchor="middle" class="tk">200</text>
<line x1="663.0" y1="596.8" x2="663.0" y2="601.4" stroke="#333" stroke-width="1"/>
<text x="663.0" y="620.4" text-anchor="middle" class="tk">300</text>
<text x="431.4" y="448.7" class="pl">F<tspan class="pd" dx="0.6">.</tspan></text>
</g>
<g>
<path d="M67.2 786.0 L67.2 784.5 L67.2 784.4 L67.2 784.2 L67.2 784.0 L67.2 783.8 L67.2 783.6 L67.2 783.4 L67.2 783.1 L67.2 782.8 L67.3 782.5 L67.3 782.2 L67.3 781.8 L67.3 781.5 L67.3 781.0 L67.3 780.6 L67.3 780.1 L67.3 779.6 L67.3 779.1 L67.3 778.5 L67.3 777.9 L67.4 777.2 L67.4 776.5 L67.4 775.8 L67.4 775.1 L67.4 774.3 L67.5 773.4 L67.5 772.6 L67.5 771.7 L67.5 770.8 L67.6 769.8 L67.6 768.8 L67.7 767.7 L67.7 766.6 L67.8 765.4 L67.8 764.2 L67.9 762.9 L68.0 761.5 L68.1 760.1 L68.2 758.6 L68.3 757.0 L68.4 755.4 L68.5 753.6 L68.7 751.9 L68.8 750.1 L69.0 748.2 L69.2 746.3 L69.4 744.4 L69.6 742.5 L69.9 740.6 L70.2 738.7 L70.5 736.9 L70.8 735.1 L71.2 733.4 L71.7 731.6 L72.1 730.0 L72.7 728.3 L73.2 726.7 L73.9 725.1 L74.6 723.5 L75.4 721.9 L76.3 720.3 L77.3 718.6 L78.4 716.9 L79.6 715.1 L80.9 713.3 L82.3 711.4 L84.0 709.5 L85.8 707.6 L87.8 705.7 L90.0 703.8 L92.4 701.9 L95.1 700.0 L98.1 698.2 L101.5 696.5 L105.1 694.8 L109.2 693.2 L113.7 691.8 L118.7 690.4 L124.3 689.1 L130.4 687.8 L137.2 686.6 L144.7 685.4 L153.0 684.2 L162.2 683.0 L172.4 681.7 L183.7 680.3 L196.2 678.8 L210.1 677.2 L225.4 675.5 L242.4 673.5" fill="none" stroke="#00868B" stroke-width="4.70" stroke-linecap="butt" stroke-linejoin="round"/>
<path d="M242.4 673.5 L331.0 673.5" fill="none" stroke="#00868B" stroke-width="4.70" stroke-linecap="butt" stroke-linejoin="round" stroke-dasharray="10.2 9.6" stroke-dashoffset="0.0"/>
<path d="M67.6 787.0 L67.6 787.0 L67.6 787.0 L67.6 787.0 L67.6 787.0 L67.6 787.0 L67.6 787.0 L67.6 787.0 L67.6 787.0 L67.6 787.0 L67.6 787.0 L67.7 787.0 L67.7 787.0 L67.7 787.0 L67.7 787.0 L67.7 786.9 L67.7 786.9 L67.7 786.9 L67.7 786.9 L67.7 786.9 L67.7 786.9 L67.7 786.9 L67.8 786.9 L67.8 786.9 L67.8 786.9 L67.8 786.9 L67.8 786.8 L67.9 786.8 L67.9 786.8 L67.9 786.8 L68.0 786.8 L68.0 786.7 L68.1 786.7 L68.1 786.7 L68.2 786.6 L68.2 786.6 L68.3 786.6 L68.3 786.5 L68.4 786.5 L68.5 786.4 L68.6 786.3 L68.7 786.3 L68.8 786.2 L69.0 786.1 L69.1 786.0 L69.3 785.9 L69.5 785.8 L69.6 785.7 L69.9 785.6 L70.1 785.4 L70.4 785.3 L70.7 785.1 L71.0 784.9 L71.3 784.7 L71.7 784.5 L72.2 784.2 L72.7 783.9 L73.2 783.6 L73.8 783.3 L74.4 783.0 L75.2 782.6 L76.0 782.2 L76.9 781.8 L77.8 781.3 L78.9 780.8 L80.1 780.3 L81.4 779.7 L82.9 779.1 L84.5 778.5 L86.3 777.9 L88.3 777.2 L90.5 776.5 L92.9 775.8 L95.6 775.1 L98.6 774.3 L101.8 773.6 L105.4 772.9 L109.5 772.2 L113.9 771.6 L118.8 770.9 L124.2 770.4 L130.2 769.8 L136.8 769.4 L144.1 768.9 L152.2 768.6 L161.2 768.3 L171.1 768.1 L182.1 767.9 L194.2 767.7 L207.6 767.6 L222.4 767.6" fill="none" stroke="#8B3A3A" stroke-width="4.70" stroke-linecap="butt" stroke-linejoin="round"/>
<path d="M222.4 767.6 L331.0 767.6" fill="none" stroke="#8B3A3A" stroke-width="4.70" stroke-linecap="butt" stroke-linejoin="round" stroke-dasharray="10.2 9.6" stroke-dashoffset="0.0"/>
<circle cx="242.4" cy="673.6" r="4.3" fill="#00868B"/>
<polygon points="221.0,764.2 224.2,770.0 217.8,770.0" fill="#8B3A3A"/>
<path d="M66.6 785.0 L66.7 780.7 L66.7 776.4 L66.9 772.0 L67.0 767.7 L67.2 763.4 L67.4 759.1 L67.6 754.8 L67.9 750.5 L68.3 746.2 L68.7 741.9 L69.2 737.6 L69.9 733.3 L70.6 729.0 L71.7 724.8 L73.7 721.1 L76.1 717.4 L78.2 713.7 L80.7 710.1 L83.5 706.8 L86.3 703.5 L89.2 700.3 L92.2 697.2 L95.4 694.3 L98.8 691.5 L102.3 689.1 L106.0 686.9 L109.8 684.9 L113.8 683.1 L117.8 681.5 L121.8 679.9 L125.9 678.5 L130.1 677.3 L134.2 676.2 L138.4 675.1 L142.6 674.2 L146.8 673.2 L151.0 672.1 L155.3 671.1 L159.5 670.2 L163.7 669.3 L167.9 668.4 L172.2 667.7 L176.4 666.9 L180.7 666.2 L185.0 665.5 L189.2 664.8 L193.5 664.1 L197.8 663.4 L202.0 662.6 L206.2 661.8 L210.5 660.9 L214.7 660.1 L218.9 659.2 L223.2 658.5 L227.5 657.7 L231.7 656.9 L236.0 656.2 L240.3 655.8 L244.6 655.5 L248.9 655.3 L253.2 655.1 L257.5 655.0 L261.9 655.0 L266.2 655.0 L270.5 655.0 L274.8 655.0 L279.1 655.0 L283.5 655.0 L287.8 655.0 L292.1 655.0 L296.4 655.0 L300.7 655.0 L305.1 655.0 L309.4 655.0 L313.7 655.0 L318.0 655.0 L322.4 655.0 L326.7 655.0 L331.0 655.0 L331.0 693.0 L326.8 693.0 L322.7 693.0 L318.5 693.0 L314.4 693.0 L310.2 692.9 L306.0 692.9 L301.9 692.9 L297.7 692.8 L293.6 692.8 L289.4 692.8 L285.3 692.7 L281.1 692.7 L276.9 692.6 L272.8 692.6 L268.6 692.5 L264.5 692.5 L260.3 692.4 L256.1 692.3 L252.0 692.2 L247.8 692.1 L243.7 692.0 L239.5 692.0 L235.4 692.2 L231.2 692.5 L227.1 692.7 L222.9 693.0 L218.7 693.2 L214.6 693.3 L210.4 693.5 L206.3 693.7 L202.1 693.9 L198.0 694.1 L193.8 694.3 L189.7 694.6 L185.5 694.8 L181.4 695.0 L177.2 695.2 L173.0 695.3 L168.9 695.5 L164.7 695.6 L160.6 695.8 L156.4 696.0 L152.3 696.2 L148.1 696.4 L144.0 696.7 L139.8 697.0 L135.7 697.3 L131.5 697.7 L127.4 698.2 L123.3 698.7 L119.2 699.3 L115.1 700.0 L111.0 700.7 L106.9 701.6 L102.9 702.6 L99.0 704.1 L95.2 705.9 L91.5 707.8 L87.9 709.9 L84.6 712.4 L81.4 715.1 L78.8 718.3 L77.2 722.2 L74.9 725.7 L72.6 729.1 L71.6 733.0 L70.9 737.2 L70.3 741.3 L69.7 745.5 L69.3 749.6 L69.0 753.8 L68.7 757.9 L68.4 762.1 L68.2 766.2 L68.1 770.4 L67.9 774.5 L67.8 778.7 L67.7 782.8 L67.6 787.0Z" fill="#00868B" fill-opacity="0.20" stroke="none"/>
<line x1="222.4" y1="793.0" x2="222.4" y2="655.0" stroke="#000" stroke-width="2.7" stroke-dasharray="10.7 10.7" stroke-dashoffset="0.0"/>
<path d="M54.6 648.6 V793.0 H343.0" fill="none" stroke="#000" stroke-width="2.1" stroke-linejoin="miter"/>
<line x1="49.0" y1="786.6" x2="53.6" y2="786.6" stroke="#333" stroke-width="1"/>
<text x="47.2" y="795.9" text-anchor="end" class="tk">0</text>
<line x1="49.0" y1="748.9" x2="53.6" y2="748.9" stroke="#333" stroke-width="1"/>
<text x="47.2" y="758.2" text-anchor="end" class="tk">2</text>
<line x1="49.0" y1="711.1" x2="53.6" y2="711.1" stroke="#333" stroke-width="1"/>
<text x="47.2" y="720.4" text-anchor="end" class="tk">4</text>
<line x1="49.0" y1="673.4" x2="53.6" y2="673.4" stroke="#333" stroke-width="1"/>
<text x="47.2" y="682.7" text-anchor="end" class="tk">6</text>
<line x1="67.4" y1="794.0" x2="67.4" y2="798.6" stroke="#333" stroke-width="1"/>
<text x="67.4" y="817.6" text-anchor="middle" class="tk">0</text>
<line x1="131.9" y1="794.0" x2="131.9" y2="798.6" stroke="#333" stroke-width="1"/>
<text x="131.9" y="817.6" text-anchor="middle" class="tk">250</text>
<line x1="196.5" y1="794.0" x2="196.5" y2="798.6" stroke="#333" stroke-width="1"/>
<text x="196.5" y="817.6" text-anchor="middle" class="tk">500</text>
<line x1="261.0" y1="794.0" x2="261.0" y2="798.6" stroke="#333" stroke-width="1"/>
<text x="261.0" y="817.6" text-anchor="middle" class="tk">750</text>
<line x1="325.6" y1="794.0" x2="325.6" y2="798.6" stroke="#333" stroke-width="1"/>
<text x="325.6" y="817.6" text-anchor="middle" class="tk">1000</text>
<text x="66.4" y="669.1" class="pl">G<tspan class="pd" dx="0.6">.</tspan></text>
<use href="#ic-mouse" transform="translate(274.30 718.40) scale(0.0964 0.0956)" fill="#000"/>
</g>
<g>
<path d="M400.0 786.9 L401.2 785.3 L402.4 783.7 L403.6 782.1 L404.9 780.5 L406.1 779.0 L407.4 777.4 L408.7 775.9 L409.9 774.3 L411.2 772.8 L412.5 771.3 L413.9 769.8 L415.2 768.3 L416.5 766.8 L417.9 765.3 L419.2 763.8 L420.6 762.3 L422.0 760.9 L423.4 759.5 L424.8 758.1 L426.2 756.6 L427.6 755.2 L429.1 753.9 L430.5 752.5 L432.0 751.1 L433.5 749.8 L435.0 748.4 L436.5 747.1 L438.0 745.8 L439.5 744.5 L441.0 743.2 L442.6 741.9 L444.2 740.7 L445.7 739.5 L447.3 738.2 L448.9 737.0 L450.6 735.9 L452.2 734.7 L453.8 733.5 L455.5 732.4 L457.1 731.3 L458.8 730.1 L460.5 729.1 L462.2 728.0 L463.9 727.0 L465.6 726.0 L467.4 725.0 L469.1 724.0 L470.9 723.0 L472.6 722.1 L474.4 721.1 L476.2 720.2 L478.0 719.3 L479.8 718.4 L481.6 717.5 L483.4 716.7 L485.2 715.9 L487.0 715.1 L488.9 714.3 L490.8 713.6 L492.6 712.9 L494.5 712.1 L496.4 711.4 L498.2 710.7 L500.1 710.0 L502.0 709.4 L503.9 708.8 L505.8 708.1 L507.7 707.5 L509.6 706.9 L511.6 706.3 L513.5 705.8 L515.4 705.3 L517.3 704.7 L519.3 704.2 L521.2 703.7 L523.2 703.2 L525.1 702.7 L527.0 702.2 L529.0 701.8" fill="none" stroke="#00868B" stroke-width="4.70" stroke-linecap="butt" stroke-linejoin="round"/>
<path d="M527.0 702.1 L528.6 701.9 L530.2 701.7 L531.8 701.5 L533.4 701.3 L535.0 701.1 L536.6 700.9 L538.2 700.7 L539.8 700.5 L541.4 700.3 L543.0 700.1 L544.6 699.9 L546.2 699.7 L547.8 699.5 L549.4 699.3 L551.0 699.1 L552.6 698.9 L554.2 698.8 L555.8 698.6 L557.4 698.4 L559.0 698.2 L560.6 698.0 L562.2 697.8 L563.8 697.6 L565.4 697.5 L567.0 697.3 L568.6 697.1 L570.2 696.9 L571.9 696.7 L573.5 696.6 L575.1 696.4 L576.7 696.2 L578.3 696.1 L579.9 695.9 L581.5 695.7 L583.1 695.5 L584.7 695.4 L586.3 695.2 L587.9 695.1 L589.5 694.9 L591.1 694.7 L592.7 694.6 L594.3 694.4 L595.9 694.3 L597.5 694.1 L599.2 694.0 L600.8 693.8 L602.4 693.7 L604.0 693.5 L605.6 693.4 L607.2 693.3 L608.8 693.1 L610.4 693.0 L612.0 692.9 L613.6 692.7 L615.2 692.6 L616.9 692.5 L618.5 692.4 L620.1 692.2 L621.7 692.1 L623.3 692.0 L624.9 691.9 L626.5 691.8 L628.1 691.7 L629.8 691.6 L631.4 691.5 L633.0 691.4 L634.6 691.3 L636.2 691.2 L637.8 691.1 L639.4 691.0 L641.1 690.9 L642.7 690.9 L644.3 690.8 L645.9 690.7 L647.5 690.6 L649.1 690.6 L650.8 690.5 L652.4 690.5 L654.0 690.4" fill="none" stroke="#00868B" stroke-width="4.70" stroke-linecap="butt" stroke-linejoin="round"/>
<circle cx="654.0" cy="690.3" r="4.2" fill="#00868B"/>
<path d="M400.0 786.9 L401.7 783.3 L403.4 779.6 L405.2 776.0 L407.0 772.5 L408.9 768.9 L410.7 765.4 L412.6 761.8 L414.6 758.3 L416.6 754.8 L418.7 751.4 L420.8 748.0 L422.9 744.6 L425.1 741.2 L427.4 737.9 L429.7 734.6 L432.0 731.4 L434.5 728.2 L436.9 725.0 L439.5 721.9 L442.1 718.9 L444.8 715.9 L447.5 713.0 L450.4 710.1 L453.3 707.4 L456.2 704.7 L459.3 702.0 L462.4 699.5 L465.6 697.1 L468.8 694.7 L472.1 692.5 L475.6 690.4 L479.0 688.3 L482.6 686.4 L486.1 684.6 L489.8 682.9 L493.5 681.3 L497.2 679.8 L500.9 678.4 L504.7 677.1 L508.5 675.9 L512.4 674.7 L516.2 673.6 L520.1 672.5 L524.0 671.5 L527.9 670.5 L531.8 669.7 L535.7 668.9 L539.7 668.3 L543.6 667.6 L547.6 667.1 L551.6 666.5 L555.6 666.0 L559.6 665.5 L563.6 665.0 L567.5 664.6 L571.5 664.2 L575.5 663.8 L579.5 663.4 L583.5 663.0 L587.5 662.7 L591.5 662.4 L595.5 662.0 L599.5 661.6 L603.5 661.2 L607.5 660.8 L611.5 660.3 L615.4 659.7 L619.4 659.2 L623.4 658.6 L627.4 658.0 L631.3 657.4 L635.3 656.8 L639.3 656.2 L643.2 655.6 L647.2 655.6 L651.2 655.6 L655.2 655.6 L659.3 655.6 L663.3 655.6 L663.3 725.0 L659.8 725.0 L656.3 725.0 L652.9 725.0 L649.4 725.0 L645.9 725.0 L642.5 725.0 L639.0 725.2 L635.5 725.5 L632.1 725.8 L628.6 726.1 L625.2 726.5 L621.7 726.9 L618.2 727.3 L614.8 727.7 L611.3 728.0 L607.9 728.4 L604.4 728.7 L601.0 728.9 L597.5 729.1 L594.0 729.3 L590.5 729.4 L587.1 729.6 L583.6 729.7 L580.1 729.8 L576.7 730.0 L573.2 730.2 L569.7 730.4 L566.3 730.7 L562.8 730.9 L559.3 731.2 L555.8 731.5 L552.4 731.8 L548.9 732.2 L545.4 732.5 L542.0 732.9 L538.5 733.3 L535.1 733.8 L531.7 734.3 L528.3 734.8 L524.9 735.7 L521.5 736.5 L518.2 737.4 L514.8 738.3 L511.5 739.2 L508.1 740.2 L504.8 741.2 L501.5 742.1 L498.1 743.2 L494.8 744.2 L491.5 745.2 L488.2 746.3 L484.9 747.5 L481.6 748.6 L478.4 749.7 L475.1 750.9 L471.8 752.1 L468.6 753.3 L465.3 754.6 L462.1 755.9 L458.9 757.2 L455.7 758.5 L452.5 759.8 L449.3 761.2 L446.1 762.6 L443.0 764.1 L439.8 765.5 L436.7 767.0 L433.5 768.5 L430.4 770.0 L427.3 771.6 L424.2 773.2 L421.2 774.8 L418.1 776.4 L415.0 778.1 L412.0 779.7 L409.0 781.5 L406.0 783.2 L403.0 785.0 L400.0 786.8Z" fill="#00868B" fill-opacity="0.20" stroke="none"/>
<path d="M387.0 648.6 V793.0 H675.6" fill="none" stroke="#000" stroke-width="2.1" stroke-linejoin="miter"/>
<line x1="381.4" y1="786.6" x2="386.0" y2="786.6" stroke="#333" stroke-width="1"/>
<text x="379.6" y="795.9" text-anchor="end" class="tk">0</text>
<line x1="381.4" y1="738.3" x2="386.0" y2="738.3" stroke="#333" stroke-width="1"/>
<text x="379.6" y="747.6" text-anchor="end" class="tk">1</text>
<line x1="381.4" y1="690.0" x2="386.0" y2="690.0" stroke="#333" stroke-width="1"/>
<text x="379.6" y="699.3" text-anchor="end" class="tk">2</text>
<line x1="400.0" y1="794.0" x2="400.0" y2="798.6" stroke="#333" stroke-width="1"/>
<text x="400.0" y="817.6" text-anchor="middle" class="tk">0</text>
<line x1="490.7" y1="794.0" x2="490.7" y2="798.6" stroke="#333" stroke-width="1"/>
<text x="490.7" y="817.6" text-anchor="middle" class="tk">10</text>
<line x1="581.4" y1="794.0" x2="581.4" y2="798.6" stroke="#333" stroke-width="1"/>
<text x="581.4" y="817.6" text-anchor="middle" class="tk">20</text>
<line x1="672.1" y1="794.0" x2="672.1" y2="798.6" stroke="#333" stroke-width="1"/>
<text x="672.1" y="817.6" text-anchor="middle" class="tk">30</text>
<text x="419.4" y="661.9" class="pl">H.</text>
</g>
<g>
<path d="M92.6 983.0 L92.6 982.5 L92.6 982.5 L92.6 982.4 L92.6 982.4 L92.6 982.3 L92.6 982.2 L92.6 982.1 L92.6 982.1 L92.6 982.0 L92.6 981.8 L92.7 981.7 L92.7 981.6 L92.7 981.5 L92.7 981.3 L92.7 981.1 L92.7 980.9 L92.7 980.7 L92.7 980.5 L92.7 980.2 L92.7 980.0 L92.8 979.7 L92.8 979.3 L92.8 979.0 L92.8 978.6 L92.8 978.2 L92.8 977.7 L92.9 977.2 L92.9 976.7 L92.9 976.1 L93.0 975.5 L93.0 974.8 L93.1 974.1 L93.1 973.3 L93.2 972.5 L93.2 971.7 L93.3 970.8 L93.4 969.8 L93.4 968.8 L93.5 967.8 L93.6 966.7 L93.7 965.6 L93.9 964.4 L94.0 963.2 L94.1 962.0 L94.3 960.7 L94.5 959.5 L94.7 958.1 L94.9 956.8 L95.2 955.4 L95.4 953.9 L95.7 952.4 L96.1 950.9 L96.4 949.3 L96.8 947.6 L97.3 945.8 L97.8 944.0 L98.3 942.1 L98.9 940.2 L99.6 938.2 L100.3 936.1 L101.2 933.9 L102.1 931.7 L103.1 929.4 L104.2 927.1 L105.4 924.8 L106.8 922.4 L108.3 920.0 L110.0 917.5 L111.8 915.1 L113.9 912.7 L116.1 910.2 L118.6 907.8 L121.4 905.4 L124.5 903.0 L127.9 900.6 L131.6 898.2 L135.7 895.9 L140.3 893.6 L145.4 891.3 L151.0 889.1 L157.2 886.8 L164.1 884.5 L171.7 882.3 L180.1 880.0 L189.4 877.7 L199.7 875.3 L211.1 873.0 L223.7 870.7 L237.6 868.3 L253.0 866.0" fill="none" stroke="#00868B" stroke-width="4.70" stroke-linecap="butt" stroke-linejoin="round"/>
<path d="M253.0 866.0 L254.0 865.9 L255.0 865.8 L256.0 865.7 L257.0 865.6 L258.0 865.5 L259.0 865.4 L260.0 865.3 L261.0 865.2 L262.0 865.1 L263.0 865.0 L264.0 864.9 L265.0 864.8 L266.0 864.7 L267.0 864.6 L268.0 864.5 L269.0 864.4 L270.0 864.3 L271.0 864.2 L272.0 864.1 L273.0 864.0 L274.0 863.9 L275.0 863.8 L276.0 863.7 L277.0 863.7 L278.0 863.6 L279.0 863.5 L280.0 863.4 L281.0 863.3 L282.0 863.2 L283.0 863.2 L284.0 863.1 L285.0 863.0 L286.0 862.9 L287.0 862.8 L288.0 862.8 L289.0 862.7 L290.0 862.6 L291.0 862.5 L292.0 862.5 L293.0 862.4 L294.0 862.3 L295.0 862.2 L296.0 862.2 L297.0 862.1 L298.0 862.0 L299.0 862.0 L300.0 861.9 L301.0 861.8 L302.0 861.7 L303.0 861.7 L304.0 861.6 L305.0 861.5 L306.0 861.5 L307.0 861.4 L308.0 861.3 L309.0 861.3 L310.0 861.2 L311.0 861.2 L312.0 861.1 L313.0 861.0 L314.0 861.0 L315.0 860.9 L316.0 860.8 L317.0 860.8 L318.0 860.7 L319.0 860.7 L320.0 860.6 L321.0 860.6 L322.0 860.5 L323.0 860.5 L324.0 860.4 L325.0 860.3 L326.0 860.3 L327.0 860.2 L328.0 860.2 L329.0 860.1 L330.0 860.1 L331.0 860.0 L332.0 860.0" fill="none" stroke="#00868B" stroke-width="4.70" stroke-linecap="butt" stroke-linejoin="round" stroke-dasharray="10.2 9.6" stroke-dashoffset="0.0"/>
<path d="M92.6 983.0 L92.6 982.8 L92.6 982.8 L92.6 982.8 L92.6 982.7 L92.6 982.7 L92.6 982.7 L92.6 982.6 L92.6 982.6 L92.6 982.6 L92.6 982.5 L92.6 982.5 L92.7 982.5 L92.7 982.4 L92.7 982.3 L92.7 982.3 L92.7 982.2 L92.7 982.2 L92.7 982.1 L92.7 982.0 L92.7 981.9 L92.7 981.8 L92.7 981.7 L92.7 981.6 L92.8 981.4 L92.8 981.3 L92.8 981.1 L92.8 981.0 L92.8 980.8 L92.8 980.6 L92.9 980.4 L92.9 980.2 L92.9 979.9 L92.9 979.7 L93.0 979.4 L93.0 979.0 L93.0 978.7 L93.1 978.3 L93.1 978.0 L93.2 977.5 L93.2 977.1 L93.3 976.6 L93.4 976.1 L93.4 975.5 L93.5 974.9 L93.6 974.3 L93.7 973.6 L93.8 972.9 L93.9 972.2 L94.0 971.4 L94.1 970.6 L94.3 969.7 L94.4 968.8 L94.6 967.8 L94.8 966.9 L95.0 965.8 L95.2 964.8 L95.5 963.7 L95.7 962.6 L96.0 961.5 L96.3 960.3 L96.7 959.1 L97.0 958.0 L97.5 956.7 L97.9 955.5 L98.4 954.3 L98.9 953.0 L99.5 951.7 L100.2 950.3 L100.9 949.0 L101.6 947.6 L102.5 946.1 L103.4 944.6 L104.4 943.1 L105.4 941.5 L106.6 939.8 L107.9 938.1 L109.4 936.4 L110.9 934.5 L112.6 932.7 L114.5 930.8 L116.5 928.9 L118.7 927.0 L121.1 925.1 L123.8 923.2 L126.6 921.3 L129.8 919.5 L133.2 917.8 L137.0 916.1 L141.1 914.5 L145.6 913.1" fill="none" stroke="#8B3A3A" stroke-width="4.70" stroke-linecap="butt" stroke-linejoin="round"/>
<path d="M145.6 913.1 L147.8 912.1 L150.0 911.2 L152.2 910.3 L154.4 909.5 L156.7 908.7 L158.9 907.9 L161.2 907.2 L163.5 906.6 L165.8 906.0 L168.1 905.4 L170.4 904.8 L172.8 904.3 L175.1 903.9 L177.5 903.5 L179.8 903.1 L182.2 902.7 L184.5 902.3 L186.9 902.0 L189.2 901.7 L191.6 901.4 L194.0 901.2 L196.4 900.9 L198.7 900.7 L201.1 900.5 L203.5 900.3 L205.9 900.1 L208.2 899.9 L210.6 899.7 L213.0 899.4 L215.3 899.2 L217.7 899.0 L220.1 898.8 L222.5 898.6 L224.8 898.4 L227.2 898.2 L229.6 898.0 L232.0 897.8 L234.3 897.6 L236.7 897.5 L239.1 897.3 L241.5 897.2 L243.9 897.1 L246.2 896.9 L248.6 896.8 L251.0 896.7 L253.4 896.6 L255.8 896.4 L258.1 896.3 L260.5 896.2 L262.9 896.1 L265.3 896.1 L267.7 896.0 L270.0 895.9 L272.4 895.8 L274.8 895.8 L277.2 895.7 L279.6 895.6 L282.0 895.5 L284.3 895.5 L286.7 895.4 L289.1 895.4 L291.5 895.3 L293.9 895.3 L296.3 895.2 L298.6 895.2 L301.0 895.2 L303.4 895.2 L305.8 895.1 L308.2 895.1 L310.6 895.1 L312.9 895.1 L315.3 895.1 L317.7 895.0 L320.1 895.0 L322.5 895.0 L324.8 895.0 L327.2 895.0 L329.6 895.0 L332.0 895.0" fill="none" stroke="#8B3A3A" stroke-width="4.70" stroke-linecap="butt" stroke-linejoin="round" stroke-dasharray="10.2 9.6" stroke-dashoffset="0.0"/>
<circle cx="253.0" cy="866.0" r="4.3" fill="#00868B"/>
<polygon points="145.9,907.2 151.4,917.1 140.4,917.1" fill="#8B3A3A"/>
<path d="M92.2 982.0 L92.3 978.1 L92.5 974.3 L92.8 970.4 L93.1 966.6 L93.5 962.8 L94.0 958.9 L94.6 955.1 L95.3 951.3 L96.2 947.5 L97.2 943.8 L98.3 940.1 L99.5 936.4 L100.8 932.8 L102.3 929.2 L104.0 925.8 L105.8 922.4 L107.8 919.1 L110.0 915.9 L112.5 912.9 L115.1 910.1 L117.8 907.3 L120.6 904.7 L123.5 902.1 L126.6 899.7 L129.7 897.6 L133.1 895.7 L136.6 893.9 L140.0 892.3 L143.6 890.8 L147.2 889.4 L150.8 887.9 L154.4 886.5 L158.0 885.1 L161.6 883.8 L165.3 882.6 L168.9 881.4 L172.6 880.2 L176.3 879.1 L180.0 877.9 L183.7 876.8 L187.4 875.7 L191.1 874.7 L194.8 873.8 L198.6 872.9 L202.4 872.0 L206.1 871.2 L209.9 870.3 L213.7 869.5 L217.4 868.6 L221.2 867.8 L225.0 867.0 L228.8 866.2 L232.5 865.5 L236.3 864.8 L240.1 864.1 L243.9 863.5 L247.7 862.9 L251.6 862.2 L255.4 861.6 L259.2 861.0 L263.0 860.4 L266.8 859.8 L270.6 859.2 L274.4 858.7 L278.3 858.1 L282.1 857.6 L285.9 857.1 L289.7 856.6 L293.6 856.2 L297.4 855.8 L301.2 855.3 L305.1 854.9 L308.9 854.6 L312.8 854.2 L316.6 853.8 L320.4 853.5 L324.3 853.2 L328.1 852.9 L332.0 852.6 L332.0 868.0 L328.2 868.1 L324.4 868.1 L320.5 868.2 L316.7 868.3 L312.9 868.4 L309.1 868.5 L305.2 868.6 L301.4 868.7 L297.6 868.8 L293.8 868.9 L290.0 869.0 L286.1 869.1 L282.3 869.2 L278.5 869.4 L274.7 869.5 L270.8 869.7 L267.0 869.8 L263.2 870.0 L259.4 870.2 L255.6 870.4 L251.8 870.7 L248.0 871.0 L244.2 871.4 L240.4 871.8 L236.6 872.2 L232.8 872.7 L229.0 873.1 L225.2 873.6 L221.4 874.0 L217.6 874.5 L213.8 875.0 L210.0 875.6 L206.2 876.1 L202.4 876.7 L198.7 877.3 L194.9 878.0 L191.2 878.8 L187.4 879.6 L183.7 880.5 L180.0 881.5 L176.3 882.5 L172.7 883.6 L169.0 884.7 L165.4 885.8 L161.7 887.0 L158.1 888.2 L154.5 889.5 L150.9 890.8 L147.3 892.1 L143.7 893.5 L140.2 895.0 L136.8 896.6 L133.4 898.5 L130.2 900.6 L127.0 902.7 L123.9 905.0 L120.9 907.3 L118.0 909.8 L115.3 912.5 L112.8 915.4 L110.4 918.4 L108.3 921.6 L106.3 924.9 L104.5 928.3 L102.9 931.7 L101.4 935.3 L100.1 938.9 L98.9 942.5 L97.9 946.2 L96.9 949.9 L96.1 953.6 L95.4 957.4 L94.8 961.1 L94.3 964.9 L93.9 968.7 L93.6 972.5 L93.3 976.4 L93.1 980.2 L93.0 984.0Z" fill="#00868B" fill-opacity="0.20" stroke="none"/>
<path d="M92.2 982.0 L92.5 978.4 L92.9 974.8 L93.4 971.2 L94.0 967.6 L94.7 964.0 L95.6 960.5 L96.6 957.0 L97.8 953.6 L99.3 950.2 L100.9 947.0 L102.9 943.9 L104.9 940.9 L106.9 937.9 L109.1 934.9 L111.4 932.1 L113.9 929.5 L116.5 927.0 L119.2 924.6 L122.1 922.3 L125.0 920.2 L128.1 918.2 L131.3 916.5 L134.5 914.9 L137.8 913.3 L141.1 911.7 L144.4 910.1 L147.6 908.4 L150.7 906.5 L153.8 904.6 L156.9 902.7 L160.0 901.0 L163.3 899.4 L166.6 897.8 L170.0 896.4 L173.4 895.2 L176.8 894.2 L180.4 893.3 L183.9 892.6 L187.5 891.9 L191.1 891.2 L194.7 890.6 L198.3 890.0 L201.8 889.4 L205.4 888.9 L209.0 888.3 L212.6 887.6 L216.2 887.0 L219.8 886.4 L223.3 885.7 L226.9 885.1 L230.5 884.6 L234.1 884.1 L237.7 883.7 L241.3 883.3 L244.9 882.9 L248.6 882.5 L252.2 882.2 L255.8 881.9 L259.4 881.6 L263.0 881.3 L266.7 881.0 L270.3 880.8 L273.9 880.5 L277.5 880.3 L281.2 880.1 L284.8 879.9 L288.4 879.7 L292.1 879.6 L295.7 879.4 L299.3 879.2 L303.0 879.1 L306.6 878.9 L310.2 878.8 L313.8 878.6 L317.5 878.5 L321.1 878.4 L324.7 878.2 L328.4 878.1 L332.0 878.0 L332.0 913.0 L328.5 913.0 L324.9 912.9 L321.4 912.9 L317.9 912.8 L314.3 912.8 L310.8 912.8 L307.2 912.7 L303.7 912.7 L300.2 912.6 L296.6 912.5 L293.1 912.5 L289.6 912.4 L286.0 912.4 L282.5 912.3 L278.9 912.2 L275.4 912.2 L271.9 912.1 L268.3 912.0 L264.8 912.0 L261.3 911.9 L257.7 911.8 L254.2 911.7 L250.7 911.6 L247.1 911.5 L243.6 911.4 L240.0 911.3 L236.5 911.2 L233.0 911.2 L229.4 911.1 L225.9 911.0 L222.4 910.9 L218.8 910.8 L215.3 910.7 L211.8 910.6 L208.2 910.6 L204.7 910.6 L201.1 910.7 L197.6 910.8 L194.1 910.9 L190.5 911.0 L187.0 911.1 L183.5 911.3 L179.9 911.5 L176.4 911.8 L172.9 912.1 L169.4 912.5 L165.9 913.1 L162.4 913.6 L158.9 914.2 L155.4 914.8 L151.9 915.4 L148.4 916.0 L144.9 916.6 L141.4 917.2 L138.0 918.0 L134.7 919.2 L131.5 920.8 L128.4 922.5 L125.4 924.3 L122.4 926.3 L119.6 928.5 L116.9 930.7 L114.2 933.1 L111.8 935.6 L109.5 938.3 L107.3 941.1 L105.3 944.0 L103.2 946.9 L101.3 949.9 L99.7 953.0 L98.3 956.3 L97.2 959.6 L96.3 963.0 L95.4 966.5 L94.7 970.0 L94.2 973.4 L93.7 976.9 L93.3 980.5 L93.0 984.0Z" fill="#8B3A3A" fill-opacity="0.20" stroke="none"/>
<line x1="146.0" y1="990.0" x2="146.0" y2="852.0" stroke="#000" stroke-width="2.7" stroke-dasharray="10.7 10.7" stroke-dashoffset="0.0"/>
<path d="M81.0 845.4 V990.0 H343.0" fill="none" stroke="#000" stroke-width="2.1" stroke-linejoin="miter"/>
<line x1="75.4" y1="983.6" x2="80.0" y2="983.6" stroke="#333" stroke-width="1"/>
<text x="73.6" y="992.9" text-anchor="end" class="tk">0</text>
<line x1="75.4" y1="939.9" x2="80.0" y2="939.9" stroke="#333" stroke-width="1"/>
<text x="73.6" y="949.2" text-anchor="end" class="tk">50</text>
<line x1="75.4" y1="896.3" x2="80.0" y2="896.3" stroke="#333" stroke-width="1"/>
<text x="73.6" y="905.6" text-anchor="end" class="tk">100</text>
<line x1="75.4" y1="852.6" x2="80.0" y2="852.6" stroke="#333" stroke-width="1"/>
<text x="73.6" y="861.9" text-anchor="end" class="tk">150</text>
<line x1="92.6" y1="991.0" x2="92.6" y2="995.6" stroke="#333" stroke-width="1"/>
<text x="92.6" y="1014.6" text-anchor="middle" class="tk">0</text>
<line x1="181.0" y1="991.0" x2="181.0" y2="995.6" stroke="#333" stroke-width="1"/>
<text x="181.0" y="1014.6" text-anchor="middle" class="tk">1000</text>
<line x1="269.4" y1="991.0" x2="269.4" y2="995.6" stroke="#333" stroke-width="1"/>
<text x="269.4" y="1014.6" text-anchor="middle" class="tk">2000</text>
<text x="90.6" y="863.1" class="pl">I<tspan class="pd" dx="0.6">.</tspan></text>
<use href="#ic-frog" transform="translate(175.60 942.80) scale(0.0522 0.0512)" fill="#000"/>
<use href="#ic-woodpecker" transform="translate(229.00 937.00) scale(-0.0532 0.0666)" fill="#000"/>
<use href="#ic-mouse" transform="translate(240.90 934.80) scale(0.0514 0.0508)" fill="#000"/>
<use href="#ic-snake" transform="translate(256.50 987.60) scale(-0.0590 -0.0588)" fill="#000"/>
<use href="#ic-deer" transform="translate(258.40 953.10) scale(0.0496 0.0483)" fill="#000"/>
</g>
<g>
<path d="M425.4 983.4 L425.4 983.2 L425.4 983.2 L425.4 983.2 L425.4 983.2 L425.4 983.2 L425.4 983.1 L425.4 983.1 L425.4 983.1 L425.4 983.0 L425.4 983.0 L425.4 983.0 L425.5 982.9 L425.5 982.9 L425.5 982.9 L425.5 982.8 L425.5 982.8 L425.5 982.7 L425.5 982.6 L425.5 982.6 L425.5 982.5 L425.5 982.4 L425.5 982.3 L425.5 982.2 L425.6 982.1 L425.6 982.0 L425.6 981.9 L425.6 981.8 L425.6 981.6 L425.7 981.5 L425.7 981.3 L425.7 981.1 L425.7 980.9 L425.8 980.7 L425.8 980.5 L425.8 980.2 L425.9 980.0 L425.9 979.7 L426.0 979.4 L426.0 979.0 L426.1 978.6 L426.2 978.2 L426.2 977.8 L426.3 977.3 L426.4 976.8 L426.5 976.3 L426.6 975.7 L426.7 975.0 L426.8 974.3 L427.0 973.6 L427.1 972.8 L427.3 971.9 L427.5 971.0 L427.7 970.0 L427.9 968.9 L428.1 967.8 L428.4 966.6 L428.7 965.4 L429.0 964.0 L429.3 962.6 L429.7 961.1 L430.1 959.6 L430.5 958.0 L431.0 956.3 L431.6 954.5 L432.1 952.6 L432.8 950.7 L433.5 948.8 L434.3 946.7 L435.1 944.6 L436.0 942.5 L437.0 940.2 L438.2 938.0 L439.4 935.6 L440.7 933.2 L442.2 930.7 L443.8 928.2 L445.5 925.7 L447.4 923.1 L449.5 920.4 L451.8 917.7 L454.3 915.0 L457.1 912.3 L460.1 909.6 L463.4 907.0 L467.0 904.4 L471.0 902.0 L475.3 899.6 L480.1 897.4 L485.3 895.3 L491.0 893.4" fill="none" stroke="#00868B" stroke-width="4.70" stroke-linecap="butt" stroke-linejoin="round"/>
<path d="M491.0 893.4 L493.0 892.6 L495.0 891.8 L497.0 891.0 L499.0 890.3 L501.0 889.6 L503.1 889.0 L505.1 888.4 L507.1 887.8 L509.2 887.3 L511.3 886.7 L513.4 886.3 L515.5 885.8 L517.6 885.3 L519.6 884.9 L521.7 884.4 L523.8 884.0 L525.9 883.6 L528.0 883.2 L530.1 882.8 L532.2 882.4 L534.3 882.0 L536.4 881.6 L538.6 881.3 L540.7 881.0 L542.8 880.7 L544.9 880.4 L547.0 880.2 L549.1 879.9 L551.3 879.7 L553.4 879.5 L555.5 879.3 L557.7 879.1 L559.8 878.9 L561.9 878.7 L564.1 878.5 L566.2 878.3 L568.3 878.1 L570.4 878.0 L572.6 877.8 L574.7 877.6 L576.8 877.5 L579.0 877.3 L581.1 877.2 L583.2 877.1 L585.4 876.9 L587.5 876.8 L589.6 876.7 L591.8 876.5 L593.9 876.4 L596.0 876.3 L598.2 876.2 L600.3 876.1 L602.5 876.0 L604.6 875.9 L606.7 875.8 L608.9 875.7 L611.0 875.6 L613.1 875.5 L615.3 875.4 L617.4 875.3 L619.5 875.2 L621.7 875.1 L623.8 875.0 L625.9 875.0 L628.1 874.9 L630.2 874.8 L632.4 874.7 L634.5 874.6 L636.6 874.6 L638.8 874.5 L640.9 874.4 L643.0 874.4 L645.2 874.3 L647.3 874.2 L649.4 874.2 L651.6 874.1 L653.7 874.1 L655.9 874.0 L658.0 874.0" fill="none" stroke="#00868B" stroke-width="4.70" stroke-linecap="butt" stroke-linejoin="round" stroke-dasharray="10.2 9.6" stroke-dashoffset="0.0"/>
<path d="M425.0 983.4 L425.0 982.9 L425.0 982.9 L425.0 982.8 L425.0 982.8 L425.0 982.7 L425.0 982.6 L425.0 982.5 L425.0 982.5 L425.0 982.4 L425.0 982.3 L425.1 982.2 L425.1 982.0 L425.1 981.9 L425.1 981.8 L425.1 981.6 L425.1 981.5 L425.1 981.3 L425.1 981.1 L425.1 981.0 L425.1 980.7 L425.2 980.5 L425.2 980.3 L425.2 980.1 L425.2 979.8 L425.2 979.6 L425.2 979.3 L425.3 979.0 L425.3 978.7 L425.3 978.4 L425.4 978.0 L425.4 977.7 L425.5 977.3 L425.5 976.9 L425.6 976.5 L425.6 976.0 L425.7 975.6 L425.8 975.0 L425.8 974.5 L425.9 973.9 L426.0 973.3 L426.1 972.6 L426.3 971.9 L426.4 971.1 L426.5 970.3 L426.7 969.5 L426.9 968.6 L427.1 967.6 L427.3 966.7 L427.5 965.7 L427.8 964.6 L428.1 963.6 L428.4 962.5 L428.8 961.4 L429.2 960.3 L429.7 959.1 L430.1 958.0 L430.7 956.9 L431.3 955.7 L432.0 954.6 L432.7 953.4 L433.5 952.3 L434.4 951.1 L435.4 949.8 L436.5 948.5 L437.8 947.2 L439.1 945.8 L440.6 944.4 L442.3 942.8 L444.1 941.2 L446.1 939.5 L448.4 937.7 L450.9 935.8 L453.6 933.8 L456.6 931.8 L460.0 929.7 L463.7 927.5 L467.8 925.3 L472.4 923.0 L477.4 920.6 L483.0 918.3 L489.1 915.9 L495.9 913.5 L503.5 911.0 L511.8 908.6 L521.0 906.1 L531.2 903.5 L542.5 900.8 L554.9 898.1 L568.7 895.2 L584.0 892.1" fill="none" stroke="#8B3A3A" stroke-width="4.70" stroke-linecap="butt" stroke-linejoin="round"/>
<path d="M584.0 892.1 L585.0 892.0 L586.0 891.9 L587.1 891.7 L588.1 891.6 L589.1 891.5 L590.1 891.4 L591.1 891.2 L592.1 891.1 L593.2 891.0 L594.2 890.9 L595.2 890.7 L596.2 890.6 L597.2 890.5 L598.3 890.4 L599.3 890.2 L600.3 890.1 L601.3 890.0 L602.3 889.9 L603.3 889.7 L604.4 889.6 L605.4 889.5 L606.4 889.3 L607.4 889.2 L608.4 889.1 L609.5 889.0 L610.5 888.8 L611.5 888.7 L612.5 888.6 L613.5 888.5 L614.5 888.3 L615.6 888.2 L616.6 888.1 L617.6 888.0 L618.6 887.8 L619.6 887.7 L620.6 887.6 L621.7 887.4 L622.7 887.3 L623.7 887.2 L624.7 887.1 L625.7 886.9 L626.8 886.8 L627.8 886.7 L628.8 886.5 L629.8 886.4 L630.8 886.3 L631.8 886.2 L632.9 886.0 L633.9 885.9 L634.9 885.8 L635.9 885.6 L636.9 885.5 L637.9 885.4 L639.0 885.3 L640.0 885.1 L641.0 885.0 L642.0 884.9 L643.0 884.7 L644.1 884.6 L645.1 884.5 L646.1 884.4 L647.1 884.2 L648.1 884.1 L649.1 884.0 L650.2 883.8 L651.2 883.7 L652.2 883.6 L653.2 883.4 L654.2 883.3 L655.2 883.2 L656.3 883.0 L657.3 882.9 L658.3 882.8 L659.3 882.7 L660.3 882.5 L661.3 882.4 L662.4 882.3 L663.4 882.1 L664.4 882.0" fill="none" stroke="#8B3A3A" stroke-width="4.70" stroke-linecap="butt" stroke-linejoin="round" stroke-dasharray="10.2 9.6" stroke-dashoffset="0.0"/>
<circle cx="491.0" cy="893.4" r="4.3" fill="#00868B"/>
<polygon points="584.0,886.3 589.5,896.2 578.5,896.2" fill="#8B3A3A"/>
<path d="M424.8 982.4 L425.3 978.6 L426.0 974.8 L426.7 971.1 L427.4 967.3 L428.3 963.6 L429.2 959.9 L430.1 956.2 L431.2 952.5 L432.3 948.8 L433.5 945.2 L434.8 941.6 L436.2 938.0 L437.8 934.5 L439.5 931.1 L441.4 927.8 L443.4 924.5 L445.5 921.3 L447.6 918.2 L450.0 915.1 L452.4 912.1 L454.9 909.3 L457.6 906.5 L460.4 903.9 L463.3 901.4 L466.2 899.0 L469.3 896.7 L472.5 894.5 L475.7 892.5 L479.0 890.5 L482.3 888.6 L485.6 886.7 L488.9 884.7 L492.3 882.9 L495.7 881.2 L499.1 879.5 L502.6 877.8 L506.1 876.3 L509.6 874.9 L513.2 873.6 L516.9 872.3 L520.5 871.1 L524.2 870.1 L527.9 869.2 L531.6 868.3 L535.3 867.4 L539.1 866.6 L542.8 865.8 L546.6 865.1 L550.3 864.3 L554.1 863.5 L557.8 862.8 L561.6 862.1 L565.4 861.4 L569.1 860.7 L572.9 860.1 L576.7 859.5 L580.5 859.0 L584.3 858.5 L588.1 858.0 L591.9 857.6 L595.7 857.2 L599.5 856.8 L603.3 856.4 L607.1 856.0 L610.9 855.7 L614.7 855.4 L618.6 855.1 L622.4 854.8 L626.2 854.6 L630.0 854.3 L633.8 854.1 L637.6 853.8 L641.5 853.6 L645.3 853.4 L649.1 853.2 L652.9 853.0 L656.7 852.9 L660.6 852.7 L664.4 852.6 L664.4 896.6 L660.8 896.5 L657.2 896.5 L653.5 896.4 L649.9 896.4 L646.3 896.3 L642.7 896.2 L639.1 896.2 L635.4 896.1 L631.8 896.0 L628.2 896.0 L624.6 895.9 L620.9 895.8 L617.3 895.7 L613.7 895.7 L610.1 895.6 L606.5 895.4 L602.8 895.3 L599.2 895.2 L595.6 895.2 L592.0 895.1 L588.4 895.0 L584.7 895.0 L581.1 895.0 L577.5 895.0 L573.9 895.0 L570.3 895.0 L566.6 895.0 L563.0 895.0 L559.4 895.0 L555.8 895.0 L552.1 895.0 L548.5 895.0 L544.9 895.0 L541.3 895.0 L537.7 895.1 L534.1 895.4 L530.5 895.7 L526.8 896.1 L523.2 896.6 L519.6 896.9 L516.1 897.4 L512.5 897.9 L508.9 898.4 L505.3 899.0 L501.7 899.5 L498.1 900.1 L494.6 900.8 L491.1 901.6 L487.6 902.6 L484.2 903.9 L480.8 905.3 L477.5 906.8 L474.3 908.3 L471.1 910.0 L467.9 911.8 L464.8 913.7 L461.9 915.8 L459.1 918.1 L456.3 920.5 L453.7 923.0 L451.0 925.5 L448.5 928.0 L446.0 930.7 L443.9 933.6 L441.9 936.6 L440.1 939.8 L438.4 943.0 L436.7 946.2 L435.2 949.5 L433.8 952.8 L432.5 956.2 L431.3 959.6 L430.3 963.1 L429.4 966.6 L428.6 970.1 L427.9 973.7 L427.2 977.3 L426.6 980.8 L426.0 984.4Z" fill="#00868B" fill-opacity="0.20" stroke="none"/>
<path d="M424.4 982.4 L424.6 978.8 L425.0 975.2 L425.4 971.7 L426.0 968.1 L426.8 964.6 L427.8 961.2 L428.9 957.8 L430.4 954.4 L432.0 951.3 L433.9 948.3 L436.1 945.4 L438.5 942.8 L441.2 940.4 L444.1 938.2 L446.9 936.0 L449.7 933.7 L452.5 931.5 L455.4 929.4 L458.4 927.5 L461.5 925.6 L464.7 923.9 L467.8 922.2 L471.0 920.6 L474.3 919.1 L477.5 917.4 L480.7 915.8 L483.9 914.2 L487.2 912.8 L490.5 911.6 L493.9 910.4 L497.4 909.3 L500.8 908.3 L504.2 907.3 L507.7 906.4 L511.2 905.5 L514.6 904.6 L518.1 903.7 L521.6 902.7 L525.0 901.7 L528.5 900.7 L531.9 899.6 L535.3 898.6 L538.7 897.5 L542.2 896.5 L545.6 895.6 L549.1 894.7 L552.6 893.8 L556.1 892.9 L559.6 892.1 L563.1 891.4 L566.6 890.7 L570.1 890.0 L573.6 889.4 L577.2 888.7 L580.7 888.1 L584.2 887.4 L587.7 886.6 L591.2 885.8 L594.7 884.9 L598.2 884.1 L601.6 883.2 L605.1 882.3 L608.6 881.4 L612.1 880.5 L615.5 879.6 L619.0 878.7 L622.5 877.9 L626.0 877.0 L629.5 876.2 L633.0 875.4 L636.5 874.5 L640.0 873.7 L643.4 872.9 L646.9 872.1 L650.4 871.2 L653.9 870.4 L657.4 869.6 L660.9 868.8 L664.4 868.0 L664.4 893.0 L660.9 893.1 L657.4 893.2 L653.9 893.3 L650.5 893.5 L647.0 893.6 L643.5 893.8 L640.0 893.9 L636.5 894.1 L633.0 894.3 L629.6 894.5 L626.1 894.7 L622.6 895.0 L619.1 895.2 L615.6 895.4 L612.2 895.7 L608.7 896.0 L605.2 896.3 L601.7 896.6 L598.3 897.0 L594.8 897.4 L591.3 897.7 L587.9 898.1 L584.4 898.6 L581.0 899.0 L577.5 899.5 L574.1 900.0 L570.6 900.6 L567.2 901.2 L563.7 901.8 L560.3 902.3 L556.9 903.0 L553.4 903.6 L550.0 904.3 L546.6 904.9 L543.2 905.6 L539.7 906.2 L536.3 906.8 L532.8 907.3 L529.4 907.9 L526.0 908.5 L522.5 909.2 L519.1 909.9 L515.8 910.7 L512.4 911.6 L509.0 912.6 L505.7 913.5 L502.3 914.5 L499.0 915.5 L495.6 916.5 L492.3 917.6 L489.0 918.7 L485.8 920.0 L482.6 921.4 L479.5 923.0 L476.4 924.6 L473.3 926.2 L470.1 927.7 L467.0 929.2 L463.9 930.9 L460.9 932.6 L457.9 934.4 L455.0 936.3 L452.2 938.3 L449.4 940.5 L446.7 942.7 L444.0 944.9 L441.2 947.0 L438.6 949.3 L436.2 951.9 L434.1 954.6 L432.1 957.5 L430.5 960.6 L429.1 963.8 L428.1 967.1 L427.3 970.6 L426.7 974.0 L426.2 977.4 L425.8 980.9 L425.6 984.4Z" fill="#8B3A3A" fill-opacity="0.20" stroke="none"/>
<line x1="491.0" y1="990.0" x2="491.0" y2="852.0" stroke="#000" stroke-width="2.7" stroke-dasharray="10.7 10.7" stroke-dashoffset="0.0"/>
<path d="M414.0 846.0 V990.0 H675.6" fill="none" stroke="#000" stroke-width="2.1" stroke-linejoin="miter"/>
<line x1="408.4" y1="983.6" x2="413.0" y2="983.6" stroke="#333" stroke-width="1"/>
<text x="406.6" y="992.9" text-anchor="end" class="tk">0</text>
<line x1="408.4" y1="949.5" x2="413.0" y2="949.5" stroke="#333" stroke-width="1"/>
<text x="406.6" y="958.8" text-anchor="end" class="tk">25</text>
<line x1="408.4" y1="915.3" x2="413.0" y2="915.3" stroke="#333" stroke-width="1"/>
<text x="406.6" y="924.6" text-anchor="end" class="tk">50</text>
<line x1="408.4" y1="881.1" x2="413.0" y2="881.1" stroke="#333" stroke-width="1"/>
<text x="406.6" y="890.4" text-anchor="end" class="tk">75</text>
<line x1="408.4" y1="847.0" x2="413.0" y2="847.0" stroke="#333" stroke-width="1"/>
<text x="406.6" y="856.3" text-anchor="end" class="tk">100</text>
<line x1="425.2" y1="991.0" x2="425.2" y2="995.6" stroke="#333" stroke-width="1"/>
<text x="425.2" y="1014.6" text-anchor="middle" class="tk">0</text>
<line x1="504.3" y1="991.0" x2="504.3" y2="995.6" stroke="#333" stroke-width="1"/>
<text x="504.3" y="1014.6" text-anchor="middle" class="tk">100</text>
<line x1="583.5" y1="991.0" x2="583.5" y2="995.6" stroke="#333" stroke-width="1"/>
<text x="583.5" y="1014.6" text-anchor="middle" class="tk">200</text>
<line x1="662.6" y1="991.0" x2="662.6" y2="995.6" stroke="#333" stroke-width="1"/>
<text x="662.6" y="1014.6" text-anchor="middle" class="tk">300</text>
<text x="419.4" y="863.9" class="pl">J.</text>
</g>
<text transform="translate(2.5,396.6) rotate(90)" text-anchor="start" class="ax" style="letter-spacing:6.5px;font-size:23.2px">Number <tspan style="letter-spacing:0">o</tspan>f Species</text>
<text x="355.3" y="1050.5" text-anchor="middle" class="ax">Effort (hours)</text>
<rect x="134.3" y="1064.4" width="36.3" height="17.9" rx="0.8" fill="#00868B" fill-opacity="0.2" stroke="#00868B" stroke-width="0.9"/>
<line x1="137.1" y1="1072.5" x2="167.1" y2="1072.5" stroke="#00868B" stroke-width="3.2"/>
<circle cx="152.5" cy="1072.8" r="5.6" fill="#00868B"/>
<text x="193.8" y="1078.3" class="lg1">Conventional</text>
<rect x="128.3" y="1097.4" width="41.5" height="20.2" rx="0.8" fill="#8B3A3A" fill-opacity="0.2" stroke="#8B3A3A" stroke-width="0.9"/>
<line x1="132.1" y1="1106.4" x2="166.5" y2="1106.4" stroke="#8B3A3A" stroke-width="3.2"/>
<polygon points="149.6,1095.6 158.8,1112.1 140.4,1112.1" fill="#8B3A3A"/>
<text x="193.8" y="1112" class="lg1">MBA</text>
<line x1="401.6" y1="1074.2" x2="439" y2="1074.2" stroke="#000" stroke-width="3.8"/>
<line x1="401.6" y1="1106.1" x2="439" y2="1106.1" stroke="#000" stroke-width="3.8" stroke-dasharray="10.6 5.7"/>
<text x="451.3" y="1084.2" class="lg2" style="font-size:22.6px">Rarefaction</text>
<text x="451.3" y="1115.8" class="lg2" style="font-size:21.9px">Extrapolation</text>
</svg></body></html>
